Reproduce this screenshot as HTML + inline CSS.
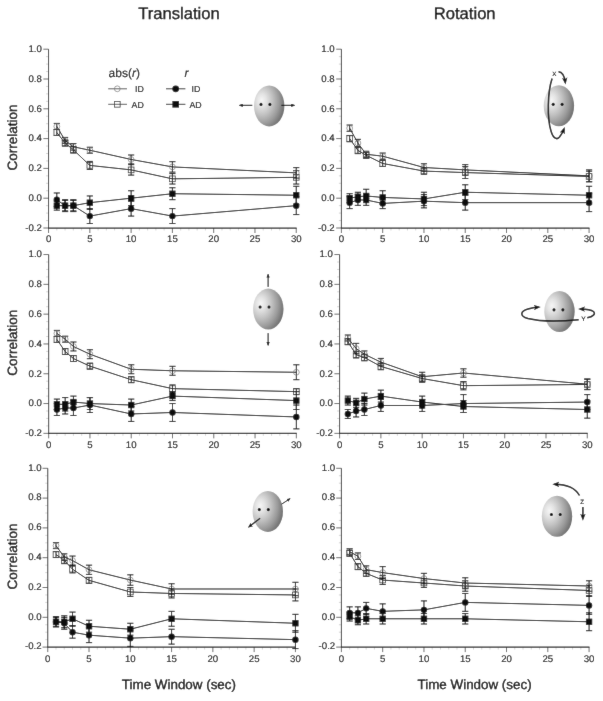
<!DOCTYPE html>
<html><head><meta charset="utf-8"><title>Correlation vs Time Window</title>
<style>html,body{margin:0;padding:0;background:#fff;}body{width:603px;height:701px;overflow:hidden;font-family:"Liberation Sans",sans-serif;}svg{display:block;filter:grayscale(1);}</style>
</head><body>
<svg width="603" height="701" viewBox="0 0 603 701" font-family="Liberation Sans, sans-serif" text-rendering="geometricPrecision"><style>text{fill:#000;stroke:#000;stroke-width:0.12px;}text.big{stroke-width:0.32px;}</style>
<defs>
<radialGradient id="hg" cx="0.27" cy="0.38" r="0.78" fx="0.25" fy="0.36"><stop offset="0" stop-color="#f6f6f6"/><stop offset="0.2" stop-color="#e3e3e3"/><stop offset="0.45" stop-color="#c2c2c2"/><stop offset="0.72" stop-color="#9a9a9a"/><stop offset="1" stop-color="#686868"/></radialGradient>
<marker id="ah" viewBox="0 0 10 10" refX="8" refY="5" markerWidth="4" markerHeight="3.6" markerUnits="userSpaceOnUse" preserveAspectRatio="none" orient="auto"><path d="M0,0.5 L10,5 L0,9.5 z" fill="#111"/></marker>
<marker id="ahm" viewBox="0 0 10 10" refX="6" refY="5" markerWidth="5" markerHeight="4.4" markerUnits="userSpaceOnUse" preserveAspectRatio="none" orient="auto"><path d="M0,0.5 L10,5 L0,9.5 z" fill="#111"/></marker>
<marker id="ahb" viewBox="0 0 10 10" refX="7" refY="5" markerWidth="7" markerHeight="6" markerUnits="userSpaceOnUse" preserveAspectRatio="none" orient="auto"><path d="M0,0.5 L10,5 L0,9.5 L2.5,5 z" fill="#111"/></marker>
<filter id="bl" x="-10%" y="-10%" width="120%" height="120%"><feGaussianBlur stdDeviation="0.45"/></filter>
<filter id="soft" filterUnits="userSpaceOnUse" x="0" y="0" width="603" height="701"><feConvolveMatrix order="3" kernelMatrix="0.01 0.05 0.01 0.05 0.76 0.05 0.01 0.05 0.01" divisor="1" edgeMode="duplicate" preserveAlpha="false"/></filter>
</defs>
<g id="all" filter="url(#soft)">
<rect width="603" height="701" fill="#fff"/>
<g><line x1="46.06" y1="220.55" x2="48.56" y2="220.55" stroke="#b8b8b8" stroke-width="0.6"/>
<line x1="46.06" y1="213.10" x2="48.56" y2="213.10" stroke="#b8b8b8" stroke-width="0.6"/>
<line x1="46.06" y1="205.65" x2="48.56" y2="205.65" stroke="#b8b8b8" stroke-width="0.6"/>
<line x1="46.06" y1="190.75" x2="48.56" y2="190.75" stroke="#b8b8b8" stroke-width="0.6"/>
<line x1="46.06" y1="183.30" x2="48.56" y2="183.30" stroke="#b8b8b8" stroke-width="0.6"/>
<line x1="46.06" y1="175.85" x2="48.56" y2="175.85" stroke="#b8b8b8" stroke-width="0.6"/>
<line x1="46.06" y1="160.95" x2="48.56" y2="160.95" stroke="#b8b8b8" stroke-width="0.6"/>
<line x1="46.06" y1="153.50" x2="48.56" y2="153.50" stroke="#b8b8b8" stroke-width="0.6"/>
<line x1="46.06" y1="146.05" x2="48.56" y2="146.05" stroke="#b8b8b8" stroke-width="0.6"/>
<line x1="46.06" y1="131.15" x2="48.56" y2="131.15" stroke="#b8b8b8" stroke-width="0.6"/>
<line x1="46.06" y1="123.70" x2="48.56" y2="123.70" stroke="#b8b8b8" stroke-width="0.6"/>
<line x1="46.06" y1="116.25" x2="48.56" y2="116.25" stroke="#b8b8b8" stroke-width="0.6"/>
<line x1="46.06" y1="101.35" x2="48.56" y2="101.35" stroke="#b8b8b8" stroke-width="0.6"/>
<line x1="46.06" y1="93.90" x2="48.56" y2="93.90" stroke="#b8b8b8" stroke-width="0.6"/>
<line x1="46.06" y1="86.45" x2="48.56" y2="86.45" stroke="#b8b8b8" stroke-width="0.6"/>
<line x1="46.06" y1="71.55" x2="48.56" y2="71.55" stroke="#b8b8b8" stroke-width="0.6"/>
<line x1="46.06" y1="64.10" x2="48.56" y2="64.10" stroke="#b8b8b8" stroke-width="0.6"/>
<line x1="46.06" y1="56.65" x2="48.56" y2="56.65" stroke="#b8b8b8" stroke-width="0.6"/>
<line x1="43.36" y1="228.00" x2="48.56" y2="228.00" stroke="#3c3c3c" stroke-width="0.75"/>
<text x="41.86" y="230.80" font-size="9.65" text-anchor="end" >-0.2</text>
<line x1="43.36" y1="198.20" x2="48.56" y2="198.20" stroke="#3c3c3c" stroke-width="0.75"/>
<text x="41.86" y="201.00" font-size="9.65" text-anchor="end" >0.0</text>
<line x1="43.36" y1="168.40" x2="48.56" y2="168.40" stroke="#3c3c3c" stroke-width="0.75"/>
<text x="41.86" y="171.20" font-size="9.65" text-anchor="end" >0.2</text>
<line x1="43.36" y1="138.60" x2="48.56" y2="138.60" stroke="#3c3c3c" stroke-width="0.75"/>
<text x="41.86" y="141.40" font-size="9.65" text-anchor="end" >0.4</text>
<line x1="43.36" y1="108.80" x2="48.56" y2="108.80" stroke="#3c3c3c" stroke-width="0.75"/>
<text x="41.86" y="111.60" font-size="9.65" text-anchor="end" >0.6</text>
<line x1="43.36" y1="79.00" x2="48.56" y2="79.00" stroke="#3c3c3c" stroke-width="0.75"/>
<text x="41.86" y="81.80" font-size="9.65" text-anchor="end" >0.8</text>
<line x1="43.36" y1="49.20" x2="48.56" y2="49.20" stroke="#3c3c3c" stroke-width="0.75"/>
<text x="41.86" y="52.00" font-size="9.65" text-anchor="end" >1.0</text>
<line x1="48.56" y1="228.00" x2="48.56" y2="233.00" stroke="#3c3c3c" stroke-width="0.75"/>
<text x="48.56" y="242.40" font-size="9.65" text-anchor="middle" >0</text>
<line x1="56.82" y1="228.00" x2="56.82" y2="230.50" stroke="#b8b8b8" stroke-width="0.6"/>
<line x1="65.07" y1="228.00" x2="65.07" y2="230.50" stroke="#b8b8b8" stroke-width="0.6"/>
<line x1="73.33" y1="228.00" x2="73.33" y2="230.50" stroke="#b8b8b8" stroke-width="0.6"/>
<line x1="81.58" y1="228.00" x2="81.58" y2="230.50" stroke="#b8b8b8" stroke-width="0.6"/>
<line x1="89.84" y1="228.00" x2="89.84" y2="233.00" stroke="#3c3c3c" stroke-width="0.75"/>
<text x="89.84" y="242.40" font-size="9.65" text-anchor="middle" >5</text>
<line x1="98.10" y1="228.00" x2="98.10" y2="230.50" stroke="#b8b8b8" stroke-width="0.6"/>
<line x1="106.35" y1="228.00" x2="106.35" y2="230.50" stroke="#b8b8b8" stroke-width="0.6"/>
<line x1="114.61" y1="228.00" x2="114.61" y2="230.50" stroke="#b8b8b8" stroke-width="0.6"/>
<line x1="122.86" y1="228.00" x2="122.86" y2="230.50" stroke="#b8b8b8" stroke-width="0.6"/>
<line x1="131.12" y1="228.00" x2="131.12" y2="233.00" stroke="#3c3c3c" stroke-width="0.75"/>
<text x="131.12" y="242.40" font-size="9.65" text-anchor="middle" >10</text>
<line x1="139.38" y1="228.00" x2="139.38" y2="230.50" stroke="#b8b8b8" stroke-width="0.6"/>
<line x1="147.63" y1="228.00" x2="147.63" y2="230.50" stroke="#b8b8b8" stroke-width="0.6"/>
<line x1="155.89" y1="228.00" x2="155.89" y2="230.50" stroke="#b8b8b8" stroke-width="0.6"/>
<line x1="164.14" y1="228.00" x2="164.14" y2="230.50" stroke="#b8b8b8" stroke-width="0.6"/>
<line x1="172.40" y1="228.00" x2="172.40" y2="233.00" stroke="#3c3c3c" stroke-width="0.75"/>
<text x="172.40" y="242.40" font-size="9.65" text-anchor="middle" >15</text>
<line x1="180.66" y1="228.00" x2="180.66" y2="230.50" stroke="#b8b8b8" stroke-width="0.6"/>
<line x1="188.91" y1="228.00" x2="188.91" y2="230.50" stroke="#b8b8b8" stroke-width="0.6"/>
<line x1="197.17" y1="228.00" x2="197.17" y2="230.50" stroke="#b8b8b8" stroke-width="0.6"/>
<line x1="205.42" y1="228.00" x2="205.42" y2="230.50" stroke="#b8b8b8" stroke-width="0.6"/>
<line x1="213.68" y1="228.00" x2="213.68" y2="233.00" stroke="#3c3c3c" stroke-width="0.75"/>
<text x="213.68" y="242.40" font-size="9.65" text-anchor="middle" >20</text>
<line x1="221.94" y1="228.00" x2="221.94" y2="230.50" stroke="#b8b8b8" stroke-width="0.6"/>
<line x1="230.19" y1="228.00" x2="230.19" y2="230.50" stroke="#b8b8b8" stroke-width="0.6"/>
<line x1="238.45" y1="228.00" x2="238.45" y2="230.50" stroke="#b8b8b8" stroke-width="0.6"/>
<line x1="246.70" y1="228.00" x2="246.70" y2="230.50" stroke="#b8b8b8" stroke-width="0.6"/>
<line x1="254.96" y1="228.00" x2="254.96" y2="233.00" stroke="#3c3c3c" stroke-width="0.75"/>
<text x="254.96" y="242.40" font-size="9.65" text-anchor="middle" >25</text>
<line x1="263.22" y1="228.00" x2="263.22" y2="230.50" stroke="#b8b8b8" stroke-width="0.6"/>
<line x1="271.47" y1="228.00" x2="271.47" y2="230.50" stroke="#b8b8b8" stroke-width="0.6"/>
<line x1="279.73" y1="228.00" x2="279.73" y2="230.50" stroke="#b8b8b8" stroke-width="0.6"/>
<line x1="287.98" y1="228.00" x2="287.98" y2="230.50" stroke="#b8b8b8" stroke-width="0.6"/>
<line x1="296.24" y1="228.00" x2="296.24" y2="233.00" stroke="#3c3c3c" stroke-width="0.75"/>
<text x="296.24" y="242.40" font-size="9.65" text-anchor="middle" >30</text>
<path d="M48.56,49.20 V228.00" fill="none" stroke="#262626" stroke-width="0.92"/>
<path d="M48.10,228.00 H296.64" fill="none" stroke="#262626" stroke-width="1.25"/></g>
<g><path d="M53.72,123.40H59.92M53.72,129.36H59.92M56.82,123.40V129.36" stroke="#111" stroke-width="1.0" fill="none"/>
<path d="M61.97,137.41H68.17M61.97,143.37H68.17M65.07,137.41V143.37" stroke="#111" stroke-width="1.0" fill="none"/>
<path d="M70.23,143.52H76.43M70.23,150.07H76.43M73.33,143.52V150.07" stroke="#111" stroke-width="1.0" fill="none"/>
<path d="M86.74,147.24H92.94M86.74,153.20H92.94M89.84,147.24V153.20" stroke="#111" stroke-width="1.0" fill="none"/>
<path d="M128.02,154.99H134.22M128.02,163.93H134.22M131.12,154.99V163.93" stroke="#111" stroke-width="1.0" fill="none"/>
<path d="M169.30,161.69H175.50M169.30,172.12H175.50M172.40,161.69V172.12" stroke="#111" stroke-width="1.0" fill="none"/>
<path d="M293.14,167.65H299.34M293.14,178.08H299.34M296.24,167.65V178.08" stroke="#111" stroke-width="1.0" fill="none"/>
<path d="M53.72,129.51H59.92M53.72,135.47H59.92M56.82,129.51V135.47" stroke="#111" stroke-width="1.0" fill="none"/>
<path d="M61.97,140.09H68.17M61.97,146.05H68.17M65.07,140.09V146.05" stroke="#111" stroke-width="1.0" fill="none"/>
<path d="M70.23,146.50H76.43M70.23,153.05H76.43M73.33,146.50V153.05" stroke="#111" stroke-width="1.0" fill="none"/>
<path d="M86.74,161.40H92.94M86.74,169.44H92.94M89.84,161.40V169.44" stroke="#111" stroke-width="1.0" fill="none"/>
<path d="M128.02,164.67H134.22M128.02,175.10H134.22M131.12,164.67V175.10" stroke="#111" stroke-width="1.0" fill="none"/>
<path d="M169.30,173.61H175.50M169.30,184.04H175.50M172.40,173.61V184.04" stroke="#111" stroke-width="1.0" fill="none"/>
<path d="M293.14,170.63H299.34M293.14,184.04H299.34M296.24,170.63V184.04" stroke="#111" stroke-width="1.0" fill="none"/>
<polyline points="56.82,126.38 65.07,140.39 73.33,146.79 89.84,150.22 131.12,159.46 172.40,166.91 296.24,172.87" fill="none" stroke="#0c0c0c" stroke-width="1.0"/>
<polyline points="56.82,132.49 65.07,143.07 73.33,149.77 89.84,165.42 131.12,169.89 172.40,178.83 296.24,177.34" fill="none" stroke="#0c0c0c" stroke-width="1.0"/>
<circle cx="56.82" cy="126.38" r="2.9" fill="none" stroke="#777" stroke-width="0.7"/>
<circle cx="65.07" cy="140.39" r="2.9" fill="none" stroke="#777" stroke-width="0.7"/>
<circle cx="73.33" cy="146.79" r="2.9" fill="none" stroke="#777" stroke-width="0.7"/>
<circle cx="89.84" cy="150.22" r="2.9" fill="none" stroke="#777" stroke-width="0.7"/>
<circle cx="131.12" cy="159.46" r="2.9" fill="none" stroke="#777" stroke-width="0.7"/>
<circle cx="172.40" cy="166.91" r="2.9" fill="none" stroke="#777" stroke-width="0.7"/>
<circle cx="296.24" cy="172.87" r="2.9" fill="none" stroke="#777" stroke-width="0.7"/>
<rect x="53.97" y="129.64" width="5.7" height="5.7" fill="none" stroke="#3a3a3a" stroke-width="0.8"/>
<rect x="62.22" y="140.22" width="5.7" height="5.7" fill="none" stroke="#3a3a3a" stroke-width="0.8"/>
<rect x="70.48" y="146.92" width="5.7" height="5.7" fill="none" stroke="#3a3a3a" stroke-width="0.8"/>
<rect x="86.99" y="162.57" width="5.7" height="5.7" fill="none" stroke="#3a3a3a" stroke-width="0.8"/>
<rect x="128.27" y="167.04" width="5.7" height="5.7" fill="none" stroke="#3a3a3a" stroke-width="0.8"/>
<rect x="169.55" y="175.98" width="5.7" height="5.7" fill="none" stroke="#3a3a3a" stroke-width="0.8"/>
<rect x="293.39" y="174.49" width="5.7" height="5.7" fill="none" stroke="#3a3a3a" stroke-width="0.8"/>
<path d="M53.72,192.98H59.92M53.72,206.39H59.92M56.82,192.98V206.39" stroke="#0a0a0a" stroke-width="1.0" fill="none"/>
<path d="M61.97,199.69H68.17M61.97,211.61H68.17M65.07,199.69V211.61" stroke="#0a0a0a" stroke-width="1.0" fill="none"/>
<path d="M70.23,199.69H76.43M70.23,211.61H76.43M73.33,199.69V211.61" stroke="#0a0a0a" stroke-width="1.0" fill="none"/>
<path d="M86.74,208.63H92.94M86.74,223.53H92.94M89.84,208.63V223.53" stroke="#0a0a0a" stroke-width="1.0" fill="none"/>
<path d="M128.02,201.18H134.22M128.02,216.08H134.22M131.12,201.18V216.08" stroke="#0a0a0a" stroke-width="1.0" fill="none"/>
<path d="M169.30,208.63H175.50M169.30,223.53H175.50M172.40,208.63V223.53" stroke="#0a0a0a" stroke-width="1.0" fill="none"/>
<path d="M293.14,196.71H299.34M293.14,214.59H299.34M296.24,196.71V214.59" stroke="#0a0a0a" stroke-width="1.0" fill="none"/>
<path d="M53.72,201.18H59.92M53.72,210.12H59.92M56.82,201.18V210.12" stroke="#0a0a0a" stroke-width="1.0" fill="none"/>
<path d="M61.97,200.44H68.17M61.97,210.86H68.17M65.07,200.44V210.86" stroke="#0a0a0a" stroke-width="1.0" fill="none"/>
<path d="M70.23,200.44H76.43M70.23,210.86H76.43M73.33,200.44V210.86" stroke="#0a0a0a" stroke-width="1.0" fill="none"/>
<path d="M86.74,195.96H92.94M86.74,209.38H92.94M89.84,195.96V209.38" stroke="#0a0a0a" stroke-width="1.0" fill="none"/>
<path d="M128.02,190.75H134.22M128.02,205.65H134.22M131.12,190.75V205.65" stroke="#0a0a0a" stroke-width="1.0" fill="none"/>
<path d="M169.30,187.77H175.50M169.30,199.69H175.50M172.40,187.77V199.69" stroke="#0a0a0a" stroke-width="1.0" fill="none"/>
<path d="M293.14,186.28H299.34M293.14,204.16H299.34M296.24,186.28V204.16" stroke="#0a0a0a" stroke-width="1.0" fill="none"/>
<polyline points="56.82,199.69 65.07,205.65 73.33,205.65 89.84,216.08 131.12,208.63 172.40,216.08 296.24,205.65" fill="none" stroke="#0c0c0c" stroke-width="1.0"/>
<polyline points="56.82,205.65 65.07,205.65 73.33,205.65 89.84,202.67 131.12,198.20 172.40,193.73 296.24,195.22" fill="none" stroke="#0c0c0c" stroke-width="1.0"/>
<circle cx="56.82" cy="199.69" r="3.2" fill="#111"/>
<circle cx="65.07" cy="205.65" r="3.2" fill="#111"/>
<circle cx="73.33" cy="205.65" r="3.2" fill="#111"/>
<circle cx="89.84" cy="216.08" r="3.2" fill="#111"/>
<circle cx="131.12" cy="208.63" r="3.2" fill="#111"/>
<circle cx="172.40" cy="216.08" r="3.2" fill="#111"/>
<circle cx="296.24" cy="205.65" r="3.2" fill="#111"/>
<rect x="53.67" y="202.50" width="6.3" height="6.3" fill="#111"/>
<rect x="61.92" y="202.50" width="6.3" height="6.3" fill="#111"/>
<rect x="70.18" y="202.50" width="6.3" height="6.3" fill="#111"/>
<rect x="86.69" y="199.52" width="6.3" height="6.3" fill="#111"/>
<rect x="127.97" y="195.05" width="6.3" height="6.3" fill="#111"/>
<rect x="169.25" y="190.58" width="6.3" height="6.3" fill="#111"/>
<rect x="293.09" y="192.07" width="6.3" height="6.3" fill="#111"/></g>
<g><line x1="338.90" y1="220.55" x2="341.40" y2="220.55" stroke="#b8b8b8" stroke-width="0.6"/>
<line x1="338.90" y1="213.10" x2="341.40" y2="213.10" stroke="#b8b8b8" stroke-width="0.6"/>
<line x1="338.90" y1="205.65" x2="341.40" y2="205.65" stroke="#b8b8b8" stroke-width="0.6"/>
<line x1="338.90" y1="190.75" x2="341.40" y2="190.75" stroke="#b8b8b8" stroke-width="0.6"/>
<line x1="338.90" y1="183.30" x2="341.40" y2="183.30" stroke="#b8b8b8" stroke-width="0.6"/>
<line x1="338.90" y1="175.85" x2="341.40" y2="175.85" stroke="#b8b8b8" stroke-width="0.6"/>
<line x1="338.90" y1="160.95" x2="341.40" y2="160.95" stroke="#b8b8b8" stroke-width="0.6"/>
<line x1="338.90" y1="153.50" x2="341.40" y2="153.50" stroke="#b8b8b8" stroke-width="0.6"/>
<line x1="338.90" y1="146.05" x2="341.40" y2="146.05" stroke="#b8b8b8" stroke-width="0.6"/>
<line x1="338.90" y1="131.15" x2="341.40" y2="131.15" stroke="#b8b8b8" stroke-width="0.6"/>
<line x1="338.90" y1="123.70" x2="341.40" y2="123.70" stroke="#b8b8b8" stroke-width="0.6"/>
<line x1="338.90" y1="116.25" x2="341.40" y2="116.25" stroke="#b8b8b8" stroke-width="0.6"/>
<line x1="338.90" y1="101.35" x2="341.40" y2="101.35" stroke="#b8b8b8" stroke-width="0.6"/>
<line x1="338.90" y1="93.90" x2="341.40" y2="93.90" stroke="#b8b8b8" stroke-width="0.6"/>
<line x1="338.90" y1="86.45" x2="341.40" y2="86.45" stroke="#b8b8b8" stroke-width="0.6"/>
<line x1="338.90" y1="71.55" x2="341.40" y2="71.55" stroke="#b8b8b8" stroke-width="0.6"/>
<line x1="338.90" y1="64.10" x2="341.40" y2="64.10" stroke="#b8b8b8" stroke-width="0.6"/>
<line x1="338.90" y1="56.65" x2="341.40" y2="56.65" stroke="#b8b8b8" stroke-width="0.6"/>
<line x1="336.20" y1="228.00" x2="341.40" y2="228.00" stroke="#3c3c3c" stroke-width="0.75"/>
<text x="334.70" y="230.80" font-size="9.65" text-anchor="end" >-0.2</text>
<line x1="336.20" y1="198.20" x2="341.40" y2="198.20" stroke="#3c3c3c" stroke-width="0.75"/>
<text x="334.70" y="201.00" font-size="9.65" text-anchor="end" >0.0</text>
<line x1="336.20" y1="168.40" x2="341.40" y2="168.40" stroke="#3c3c3c" stroke-width="0.75"/>
<text x="334.70" y="171.20" font-size="9.65" text-anchor="end" >0.2</text>
<line x1="336.20" y1="138.60" x2="341.40" y2="138.60" stroke="#3c3c3c" stroke-width="0.75"/>
<text x="334.70" y="141.40" font-size="9.65" text-anchor="end" >0.4</text>
<line x1="336.20" y1="108.80" x2="341.40" y2="108.80" stroke="#3c3c3c" stroke-width="0.75"/>
<text x="334.70" y="111.60" font-size="9.65" text-anchor="end" >0.6</text>
<line x1="336.20" y1="79.00" x2="341.40" y2="79.00" stroke="#3c3c3c" stroke-width="0.75"/>
<text x="334.70" y="81.80" font-size="9.65" text-anchor="end" >0.8</text>
<line x1="336.20" y1="49.20" x2="341.40" y2="49.20" stroke="#3c3c3c" stroke-width="0.75"/>
<text x="334.70" y="52.00" font-size="9.65" text-anchor="end" >1.0</text>
<line x1="341.40" y1="228.00" x2="341.40" y2="233.00" stroke="#3c3c3c" stroke-width="0.75"/>
<text x="341.40" y="242.40" font-size="9.65" text-anchor="middle" >0</text>
<line x1="349.66" y1="228.00" x2="349.66" y2="230.50" stroke="#b8b8b8" stroke-width="0.6"/>
<line x1="357.91" y1="228.00" x2="357.91" y2="230.50" stroke="#b8b8b8" stroke-width="0.6"/>
<line x1="366.17" y1="228.00" x2="366.17" y2="230.50" stroke="#b8b8b8" stroke-width="0.6"/>
<line x1="374.42" y1="228.00" x2="374.42" y2="230.50" stroke="#b8b8b8" stroke-width="0.6"/>
<line x1="382.68" y1="228.00" x2="382.68" y2="233.00" stroke="#3c3c3c" stroke-width="0.75"/>
<text x="382.68" y="242.40" font-size="9.65" text-anchor="middle" >5</text>
<line x1="390.94" y1="228.00" x2="390.94" y2="230.50" stroke="#b8b8b8" stroke-width="0.6"/>
<line x1="399.19" y1="228.00" x2="399.19" y2="230.50" stroke="#b8b8b8" stroke-width="0.6"/>
<line x1="407.45" y1="228.00" x2="407.45" y2="230.50" stroke="#b8b8b8" stroke-width="0.6"/>
<line x1="415.70" y1="228.00" x2="415.70" y2="230.50" stroke="#b8b8b8" stroke-width="0.6"/>
<line x1="423.96" y1="228.00" x2="423.96" y2="233.00" stroke="#3c3c3c" stroke-width="0.75"/>
<text x="423.96" y="242.40" font-size="9.65" text-anchor="middle" >10</text>
<line x1="432.22" y1="228.00" x2="432.22" y2="230.50" stroke="#b8b8b8" stroke-width="0.6"/>
<line x1="440.47" y1="228.00" x2="440.47" y2="230.50" stroke="#b8b8b8" stroke-width="0.6"/>
<line x1="448.73" y1="228.00" x2="448.73" y2="230.50" stroke="#b8b8b8" stroke-width="0.6"/>
<line x1="456.98" y1="228.00" x2="456.98" y2="230.50" stroke="#b8b8b8" stroke-width="0.6"/>
<line x1="465.24" y1="228.00" x2="465.24" y2="233.00" stroke="#3c3c3c" stroke-width="0.75"/>
<text x="465.24" y="242.40" font-size="9.65" text-anchor="middle" >15</text>
<line x1="473.50" y1="228.00" x2="473.50" y2="230.50" stroke="#b8b8b8" stroke-width="0.6"/>
<line x1="481.75" y1="228.00" x2="481.75" y2="230.50" stroke="#b8b8b8" stroke-width="0.6"/>
<line x1="490.01" y1="228.00" x2="490.01" y2="230.50" stroke="#b8b8b8" stroke-width="0.6"/>
<line x1="498.26" y1="228.00" x2="498.26" y2="230.50" stroke="#b8b8b8" stroke-width="0.6"/>
<line x1="506.52" y1="228.00" x2="506.52" y2="233.00" stroke="#3c3c3c" stroke-width="0.75"/>
<text x="506.52" y="242.40" font-size="9.65" text-anchor="middle" >20</text>
<line x1="514.78" y1="228.00" x2="514.78" y2="230.50" stroke="#b8b8b8" stroke-width="0.6"/>
<line x1="523.03" y1="228.00" x2="523.03" y2="230.50" stroke="#b8b8b8" stroke-width="0.6"/>
<line x1="531.29" y1="228.00" x2="531.29" y2="230.50" stroke="#b8b8b8" stroke-width="0.6"/>
<line x1="539.54" y1="228.00" x2="539.54" y2="230.50" stroke="#b8b8b8" stroke-width="0.6"/>
<line x1="547.80" y1="228.00" x2="547.80" y2="233.00" stroke="#3c3c3c" stroke-width="0.75"/>
<text x="547.80" y="242.40" font-size="9.65" text-anchor="middle" >25</text>
<line x1="556.06" y1="228.00" x2="556.06" y2="230.50" stroke="#b8b8b8" stroke-width="0.6"/>
<line x1="564.31" y1="228.00" x2="564.31" y2="230.50" stroke="#b8b8b8" stroke-width="0.6"/>
<line x1="572.57" y1="228.00" x2="572.57" y2="230.50" stroke="#b8b8b8" stroke-width="0.6"/>
<line x1="580.82" y1="228.00" x2="580.82" y2="230.50" stroke="#b8b8b8" stroke-width="0.6"/>
<line x1="589.08" y1="228.00" x2="589.08" y2="233.00" stroke="#3c3c3c" stroke-width="0.75"/>
<text x="589.08" y="242.40" font-size="9.65" text-anchor="middle" >30</text>
<path d="M341.40,49.20 V228.00" fill="none" stroke="#262626" stroke-width="0.92"/>
<path d="M340.94,228.00 H589.48" fill="none" stroke="#262626" stroke-width="1.25"/></g>
<g><path d="M346.56,125.04H352.76M346.56,131.30H352.76M349.66,125.04V131.30" stroke="#111" stroke-width="1.0" fill="none"/>
<path d="M354.81,139.34H361.01M354.81,146.79H361.01M357.91,139.34V146.79" stroke="#111" stroke-width="1.0" fill="none"/>
<path d="M363.07,151.26H369.27M363.07,157.22H369.27M366.17,151.26V157.22" stroke="#111" stroke-width="1.0" fill="none"/>
<path d="M379.58,153.05H385.78M379.58,159.31H385.78M382.68,153.05V159.31" stroke="#111" stroke-width="1.0" fill="none"/>
<path d="M420.86,163.78H427.06M420.86,171.23H427.06M423.96,163.78V171.23" stroke="#111" stroke-width="1.0" fill="none"/>
<path d="M462.14,164.67H468.34M462.14,175.10H468.34M465.24,164.67V175.10" stroke="#111" stroke-width="1.0" fill="none"/>
<path d="M585.98,169.89H592.18M585.98,181.81H592.18M589.08,169.89V181.81" stroke="#111" stroke-width="1.0" fill="none"/>
<path d="M346.56,135.47H352.76M346.56,141.73H352.76M349.66,135.47V141.73" stroke="#111" stroke-width="1.0" fill="none"/>
<path d="M354.81,147.09H361.01M354.81,153.65H361.01M357.91,147.09V153.65" stroke="#111" stroke-width="1.0" fill="none"/>
<path d="M363.07,152.31H369.27M363.07,158.27H369.27M366.17,152.31V158.27" stroke="#111" stroke-width="1.0" fill="none"/>
<path d="M379.58,160.50H385.78M379.58,166.46H385.78M382.68,160.50V166.46" stroke="#111" stroke-width="1.0" fill="none"/>
<path d="M420.86,167.95H427.06M420.86,174.21H427.06M423.96,167.95V174.21" stroke="#111" stroke-width="1.0" fill="none"/>
<path d="M462.14,166.61H468.34M462.14,178.53H468.34M465.24,166.61V178.53" stroke="#111" stroke-width="1.0" fill="none"/>
<path d="M585.98,171.23H592.18M585.98,181.66H592.18M589.08,171.23V181.66" stroke="#111" stroke-width="1.0" fill="none"/>
<polyline points="349.66,128.17 357.91,143.07 366.17,154.25 382.68,156.18 423.96,167.51 465.24,169.89 589.08,175.85" fill="none" stroke="#0c0c0c" stroke-width="1.0"/>
<polyline points="349.66,138.60 357.91,150.37 366.17,155.29 382.68,163.48 423.96,171.08 465.24,172.57 589.08,176.45" fill="none" stroke="#0c0c0c" stroke-width="1.0"/>
<circle cx="349.66" cy="128.17" r="2.9" fill="none" stroke="#777" stroke-width="0.7"/>
<circle cx="357.91" cy="143.07" r="2.9" fill="none" stroke="#777" stroke-width="0.7"/>
<circle cx="366.17" cy="154.25" r="2.9" fill="none" stroke="#777" stroke-width="0.7"/>
<circle cx="382.68" cy="156.18" r="2.9" fill="none" stroke="#777" stroke-width="0.7"/>
<circle cx="423.96" cy="167.51" r="2.9" fill="none" stroke="#777" stroke-width="0.7"/>
<circle cx="465.24" cy="169.89" r="2.9" fill="none" stroke="#777" stroke-width="0.7"/>
<circle cx="589.08" cy="175.85" r="2.9" fill="none" stroke="#777" stroke-width="0.7"/>
<rect x="346.81" y="135.75" width="5.7" height="5.7" fill="none" stroke="#3a3a3a" stroke-width="0.8"/>
<rect x="355.06" y="147.52" width="5.7" height="5.7" fill="none" stroke="#3a3a3a" stroke-width="0.8"/>
<rect x="363.32" y="152.44" width="5.7" height="5.7" fill="none" stroke="#3a3a3a" stroke-width="0.8"/>
<rect x="379.83" y="160.63" width="5.7" height="5.7" fill="none" stroke="#3a3a3a" stroke-width="0.8"/>
<rect x="421.11" y="168.23" width="5.7" height="5.7" fill="none" stroke="#3a3a3a" stroke-width="0.8"/>
<rect x="462.39" y="169.72" width="5.7" height="5.7" fill="none" stroke="#3a3a3a" stroke-width="0.8"/>
<rect x="586.23" y="173.60" width="5.7" height="5.7" fill="none" stroke="#3a3a3a" stroke-width="0.8"/>
<path d="M346.56,196.71H352.76M346.56,208.63H352.76M349.66,196.71V208.63" stroke="#0a0a0a" stroke-width="1.0" fill="none"/>
<path d="M354.81,194.62H361.01M354.81,205.35H361.01M357.91,194.62V205.35" stroke="#0a0a0a" stroke-width="1.0" fill="none"/>
<path d="M363.07,194.62H369.27M363.07,205.35H369.27M366.17,194.62V205.35" stroke="#0a0a0a" stroke-width="1.0" fill="none"/>
<path d="M379.58,198.20H385.78M379.58,208.63H385.78M382.68,198.20V208.63" stroke="#0a0a0a" stroke-width="1.0" fill="none"/>
<path d="M420.86,194.47H427.06M420.86,207.88H427.06M423.96,194.47V207.88" stroke="#0a0a0a" stroke-width="1.0" fill="none"/>
<path d="M462.14,195.22H468.34M462.14,210.12H468.34M465.24,195.22V210.12" stroke="#0a0a0a" stroke-width="1.0" fill="none"/>
<path d="M585.98,193.73H592.18M585.98,211.61H592.18M589.08,193.73V211.61" stroke="#0a0a0a" stroke-width="1.0" fill="none"/>
<path d="M346.56,193.73H352.76M346.56,202.67H352.76M349.66,193.73V202.67" stroke="#0a0a0a" stroke-width="1.0" fill="none"/>
<path d="M354.81,192.24H361.01M354.81,201.18H361.01M357.91,192.24V201.18" stroke="#0a0a0a" stroke-width="1.0" fill="none"/>
<path d="M363.07,189.26H369.27M363.07,202.67H369.27M366.17,189.26V202.67" stroke="#0a0a0a" stroke-width="1.0" fill="none"/>
<path d="M379.58,190.75H385.78M379.58,204.16H385.78M382.68,190.75V204.16" stroke="#0a0a0a" stroke-width="1.0" fill="none"/>
<path d="M420.86,192.24H427.06M420.86,205.65H427.06M423.96,192.24V205.65" stroke="#0a0a0a" stroke-width="1.0" fill="none"/>
<path d="M462.14,184.79H468.34M462.14,199.69H468.34M465.24,184.79V199.69" stroke="#0a0a0a" stroke-width="1.0" fill="none"/>
<path d="M585.98,186.28H592.18M585.98,204.16H592.18M589.08,186.28V204.16" stroke="#0a0a0a" stroke-width="1.0" fill="none"/>
<polyline points="349.66,202.67 357.91,199.99 366.17,199.99 382.68,203.41 423.96,201.18 465.24,202.67 589.08,202.67" fill="none" stroke="#0c0c0c" stroke-width="1.0"/>
<polyline points="349.66,198.20 357.91,196.71 366.17,195.96 382.68,197.45 423.96,198.94 465.24,192.24 589.08,195.22" fill="none" stroke="#0c0c0c" stroke-width="1.0"/>
<circle cx="349.66" cy="202.67" r="3.2" fill="#111"/>
<circle cx="357.91" cy="199.99" r="3.2" fill="#111"/>
<circle cx="366.17" cy="199.99" r="3.2" fill="#111"/>
<circle cx="382.68" cy="203.41" r="3.2" fill="#111"/>
<circle cx="423.96" cy="201.18" r="3.2" fill="#111"/>
<circle cx="465.24" cy="202.67" r="3.2" fill="#111"/>
<circle cx="589.08" cy="202.67" r="3.2" fill="#111"/>
<rect x="346.51" y="195.05" width="6.3" height="6.3" fill="#111"/>
<rect x="354.76" y="193.56" width="6.3" height="6.3" fill="#111"/>
<rect x="363.02" y="192.81" width="6.3" height="6.3" fill="#111"/>
<rect x="379.53" y="194.30" width="6.3" height="6.3" fill="#111"/>
<rect x="420.81" y="195.79" width="6.3" height="6.3" fill="#111"/>
<rect x="462.09" y="189.09" width="6.3" height="6.3" fill="#111"/>
<rect x="585.93" y="192.07" width="6.3" height="6.3" fill="#111"/></g>
<g><line x1="46.16" y1="425.90" x2="48.66" y2="425.90" stroke="#b8b8b8" stroke-width="0.6"/>
<line x1="46.16" y1="418.45" x2="48.66" y2="418.45" stroke="#b8b8b8" stroke-width="0.6"/>
<line x1="46.16" y1="411.00" x2="48.66" y2="411.00" stroke="#b8b8b8" stroke-width="0.6"/>
<line x1="46.16" y1="396.10" x2="48.66" y2="396.10" stroke="#b8b8b8" stroke-width="0.6"/>
<line x1="46.16" y1="388.65" x2="48.66" y2="388.65" stroke="#b8b8b8" stroke-width="0.6"/>
<line x1="46.16" y1="381.20" x2="48.66" y2="381.20" stroke="#b8b8b8" stroke-width="0.6"/>
<line x1="46.16" y1="366.30" x2="48.66" y2="366.30" stroke="#b8b8b8" stroke-width="0.6"/>
<line x1="46.16" y1="358.85" x2="48.66" y2="358.85" stroke="#b8b8b8" stroke-width="0.6"/>
<line x1="46.16" y1="351.40" x2="48.66" y2="351.40" stroke="#b8b8b8" stroke-width="0.6"/>
<line x1="46.16" y1="336.50" x2="48.66" y2="336.50" stroke="#b8b8b8" stroke-width="0.6"/>
<line x1="46.16" y1="329.05" x2="48.66" y2="329.05" stroke="#b8b8b8" stroke-width="0.6"/>
<line x1="46.16" y1="321.60" x2="48.66" y2="321.60" stroke="#b8b8b8" stroke-width="0.6"/>
<line x1="46.16" y1="306.70" x2="48.66" y2="306.70" stroke="#b8b8b8" stroke-width="0.6"/>
<line x1="46.16" y1="299.25" x2="48.66" y2="299.25" stroke="#b8b8b8" stroke-width="0.6"/>
<line x1="46.16" y1="291.80" x2="48.66" y2="291.80" stroke="#b8b8b8" stroke-width="0.6"/>
<line x1="46.16" y1="276.90" x2="48.66" y2="276.90" stroke="#b8b8b8" stroke-width="0.6"/>
<line x1="46.16" y1="269.45" x2="48.66" y2="269.45" stroke="#b8b8b8" stroke-width="0.6"/>
<line x1="46.16" y1="262.00" x2="48.66" y2="262.00" stroke="#b8b8b8" stroke-width="0.6"/>
<line x1="43.46" y1="433.35" x2="48.66" y2="433.35" stroke="#3c3c3c" stroke-width="0.75"/>
<text x="41.96" y="436.15" font-size="9.65" text-anchor="end" >-0.2</text>
<line x1="43.46" y1="403.55" x2="48.66" y2="403.55" stroke="#3c3c3c" stroke-width="0.75"/>
<text x="41.96" y="406.35" font-size="9.65" text-anchor="end" >0.0</text>
<line x1="43.46" y1="373.75" x2="48.66" y2="373.75" stroke="#3c3c3c" stroke-width="0.75"/>
<text x="41.96" y="376.55" font-size="9.65" text-anchor="end" >0.2</text>
<line x1="43.46" y1="343.95" x2="48.66" y2="343.95" stroke="#3c3c3c" stroke-width="0.75"/>
<text x="41.96" y="346.75" font-size="9.65" text-anchor="end" >0.4</text>
<line x1="43.46" y1="314.15" x2="48.66" y2="314.15" stroke="#3c3c3c" stroke-width="0.75"/>
<text x="41.96" y="316.95" font-size="9.65" text-anchor="end" >0.6</text>
<line x1="43.46" y1="284.35" x2="48.66" y2="284.35" stroke="#3c3c3c" stroke-width="0.75"/>
<text x="41.96" y="287.15" font-size="9.65" text-anchor="end" >0.8</text>
<line x1="43.46" y1="254.55" x2="48.66" y2="254.55" stroke="#3c3c3c" stroke-width="0.75"/>
<text x="41.96" y="257.35" font-size="9.65" text-anchor="end" >1.0</text>
<line x1="48.66" y1="433.35" x2="48.66" y2="438.35" stroke="#3c3c3c" stroke-width="0.75"/>
<text x="48.66" y="447.75" font-size="9.65" text-anchor="middle" >0</text>
<line x1="56.92" y1="433.35" x2="56.92" y2="435.85" stroke="#b8b8b8" stroke-width="0.6"/>
<line x1="65.17" y1="433.35" x2="65.17" y2="435.85" stroke="#b8b8b8" stroke-width="0.6"/>
<line x1="73.43" y1="433.35" x2="73.43" y2="435.85" stroke="#b8b8b8" stroke-width="0.6"/>
<line x1="81.68" y1="433.35" x2="81.68" y2="435.85" stroke="#b8b8b8" stroke-width="0.6"/>
<line x1="89.94" y1="433.35" x2="89.94" y2="438.35" stroke="#3c3c3c" stroke-width="0.75"/>
<text x="89.94" y="447.75" font-size="9.65" text-anchor="middle" >5</text>
<line x1="98.20" y1="433.35" x2="98.20" y2="435.85" stroke="#b8b8b8" stroke-width="0.6"/>
<line x1="106.45" y1="433.35" x2="106.45" y2="435.85" stroke="#b8b8b8" stroke-width="0.6"/>
<line x1="114.71" y1="433.35" x2="114.71" y2="435.85" stroke="#b8b8b8" stroke-width="0.6"/>
<line x1="122.96" y1="433.35" x2="122.96" y2="435.85" stroke="#b8b8b8" stroke-width="0.6"/>
<line x1="131.22" y1="433.35" x2="131.22" y2="438.35" stroke="#3c3c3c" stroke-width="0.75"/>
<text x="131.22" y="447.75" font-size="9.65" text-anchor="middle" >10</text>
<line x1="139.48" y1="433.35" x2="139.48" y2="435.85" stroke="#b8b8b8" stroke-width="0.6"/>
<line x1="147.73" y1="433.35" x2="147.73" y2="435.85" stroke="#b8b8b8" stroke-width="0.6"/>
<line x1="155.99" y1="433.35" x2="155.99" y2="435.85" stroke="#b8b8b8" stroke-width="0.6"/>
<line x1="164.24" y1="433.35" x2="164.24" y2="435.85" stroke="#b8b8b8" stroke-width="0.6"/>
<line x1="172.50" y1="433.35" x2="172.50" y2="438.35" stroke="#3c3c3c" stroke-width="0.75"/>
<text x="172.50" y="447.75" font-size="9.65" text-anchor="middle" >15</text>
<line x1="180.76" y1="433.35" x2="180.76" y2="435.85" stroke="#b8b8b8" stroke-width="0.6"/>
<line x1="189.01" y1="433.35" x2="189.01" y2="435.85" stroke="#b8b8b8" stroke-width="0.6"/>
<line x1="197.27" y1="433.35" x2="197.27" y2="435.85" stroke="#b8b8b8" stroke-width="0.6"/>
<line x1="205.52" y1="433.35" x2="205.52" y2="435.85" stroke="#b8b8b8" stroke-width="0.6"/>
<line x1="213.78" y1="433.35" x2="213.78" y2="438.35" stroke="#3c3c3c" stroke-width="0.75"/>
<text x="213.78" y="447.75" font-size="9.65" text-anchor="middle" >20</text>
<line x1="222.04" y1="433.35" x2="222.04" y2="435.85" stroke="#b8b8b8" stroke-width="0.6"/>
<line x1="230.29" y1="433.35" x2="230.29" y2="435.85" stroke="#b8b8b8" stroke-width="0.6"/>
<line x1="238.55" y1="433.35" x2="238.55" y2="435.85" stroke="#b8b8b8" stroke-width="0.6"/>
<line x1="246.80" y1="433.35" x2="246.80" y2="435.85" stroke="#b8b8b8" stroke-width="0.6"/>
<line x1="255.06" y1="433.35" x2="255.06" y2="438.35" stroke="#3c3c3c" stroke-width="0.75"/>
<text x="255.06" y="447.75" font-size="9.65" text-anchor="middle" >25</text>
<line x1="263.32" y1="433.35" x2="263.32" y2="435.85" stroke="#b8b8b8" stroke-width="0.6"/>
<line x1="271.57" y1="433.35" x2="271.57" y2="435.85" stroke="#b8b8b8" stroke-width="0.6"/>
<line x1="279.83" y1="433.35" x2="279.83" y2="435.85" stroke="#b8b8b8" stroke-width="0.6"/>
<line x1="288.08" y1="433.35" x2="288.08" y2="435.85" stroke="#b8b8b8" stroke-width="0.6"/>
<line x1="296.34" y1="433.35" x2="296.34" y2="438.35" stroke="#3c3c3c" stroke-width="0.75"/>
<text x="296.34" y="447.75" font-size="9.65" text-anchor="middle" >30</text>
<path d="M48.66,254.55 V433.35" fill="none" stroke="#262626" stroke-width="0.92"/>
<path d="M48.20,433.35 H296.74" fill="none" stroke="#262626" stroke-width="1.25"/></g>
<g><path d="M53.82,330.39H60.02M53.82,336.35H60.02M56.92,330.39V336.35" stroke="#111" stroke-width="1.0" fill="none"/>
<path d="M62.07,336.20H68.27M62.07,342.16H68.27M65.17,336.20V342.16" stroke="#111" stroke-width="1.0" fill="none"/>
<path d="M70.33,342.01H76.53M70.33,350.95H76.53M73.43,342.01V350.95" stroke="#111" stroke-width="1.0" fill="none"/>
<path d="M86.84,349.76H93.04M86.84,358.70H93.04M89.94,349.76V358.70" stroke="#111" stroke-width="1.0" fill="none"/>
<path d="M128.12,364.81H134.32M128.12,373.75H134.32M131.22,364.81V373.75" stroke="#111" stroke-width="1.0" fill="none"/>
<path d="M169.40,366.30H175.60M169.40,375.24H175.60M172.50,366.30V375.24" stroke="#111" stroke-width="1.0" fill="none"/>
<path d="M293.24,364.81H299.44M293.24,379.71H299.44M296.34,364.81V379.71" stroke="#111" stroke-width="1.0" fill="none"/>
<path d="M53.82,336.50H60.02M53.82,342.46H60.02M56.92,336.50V342.46" stroke="#111" stroke-width="1.0" fill="none"/>
<path d="M62.07,348.57H68.27M62.07,354.53H68.27M65.17,348.57V354.53" stroke="#111" stroke-width="1.0" fill="none"/>
<path d="M70.33,355.57H76.53M70.33,361.53H76.53M73.43,355.57V361.53" stroke="#111" stroke-width="1.0" fill="none"/>
<path d="M86.84,363.17H93.04M86.84,369.13H93.04M89.94,363.17V369.13" stroke="#111" stroke-width="1.0" fill="none"/>
<path d="M128.12,376.73H134.32M128.12,382.69H134.32M131.22,376.73V382.69" stroke="#111" stroke-width="1.0" fill="none"/>
<path d="M169.40,384.93H175.60M169.40,392.38H175.60M172.50,384.93V392.38" stroke="#111" stroke-width="1.0" fill="none"/>
<path d="M293.24,388.65H299.44M293.24,394.61H299.44M296.34,388.65V394.61" stroke="#111" stroke-width="1.0" fill="none"/>
<polyline points="56.92,333.37 65.17,339.18 73.43,346.48 89.94,354.23 131.22,369.28 172.50,370.77 296.34,372.26" fill="none" stroke="#0c0c0c" stroke-width="1.0"/>
<polyline points="56.92,339.48 65.17,351.55 73.43,358.55 89.94,366.15 131.22,379.71 172.50,388.65 296.34,391.63" fill="none" stroke="#0c0c0c" stroke-width="1.0"/>
<circle cx="56.92" cy="333.37" r="2.9" fill="none" stroke="#777" stroke-width="0.7"/>
<circle cx="65.17" cy="339.18" r="2.9" fill="none" stroke="#777" stroke-width="0.7"/>
<circle cx="73.43" cy="346.48" r="2.9" fill="none" stroke="#777" stroke-width="0.7"/>
<circle cx="89.94" cy="354.23" r="2.9" fill="none" stroke="#777" stroke-width="0.7"/>
<circle cx="131.22" cy="369.28" r="2.9" fill="none" stroke="#777" stroke-width="0.7"/>
<circle cx="172.50" cy="370.77" r="2.9" fill="none" stroke="#777" stroke-width="0.7"/>
<circle cx="296.34" cy="372.26" r="2.9" fill="none" stroke="#777" stroke-width="0.7"/>
<rect x="54.07" y="336.63" width="5.7" height="5.7" fill="none" stroke="#3a3a3a" stroke-width="0.8"/>
<rect x="62.32" y="348.70" width="5.7" height="5.7" fill="none" stroke="#3a3a3a" stroke-width="0.8"/>
<rect x="70.58" y="355.70" width="5.7" height="5.7" fill="none" stroke="#3a3a3a" stroke-width="0.8"/>
<rect x="87.09" y="363.30" width="5.7" height="5.7" fill="none" stroke="#3a3a3a" stroke-width="0.8"/>
<rect x="128.37" y="376.86" width="5.7" height="5.7" fill="none" stroke="#3a3a3a" stroke-width="0.8"/>
<rect x="169.65" y="385.80" width="5.7" height="5.7" fill="none" stroke="#3a3a3a" stroke-width="0.8"/>
<rect x="293.49" y="388.78" width="5.7" height="5.7" fill="none" stroke="#3a3a3a" stroke-width="0.8"/>
<path d="M53.82,403.55H60.02M53.82,415.47H60.02M56.92,403.55V415.47" stroke="#0a0a0a" stroke-width="1.0" fill="none"/>
<path d="M62.07,402.06H68.27M62.07,413.98H68.27M65.17,402.06V413.98" stroke="#0a0a0a" stroke-width="1.0" fill="none"/>
<path d="M70.33,400.57H76.53M70.33,415.47H76.53M73.43,400.57V415.47" stroke="#0a0a0a" stroke-width="1.0" fill="none"/>
<path d="M86.84,397.59H93.04M86.84,412.49H93.04M89.94,397.59V412.49" stroke="#0a0a0a" stroke-width="1.0" fill="none"/>
<path d="M128.12,406.53H134.32M128.12,421.43H134.32M131.22,406.53V421.43" stroke="#0a0a0a" stroke-width="1.0" fill="none"/>
<path d="M169.40,403.55H175.60M169.40,421.43H175.60M172.50,403.55V421.43" stroke="#0a0a0a" stroke-width="1.0" fill="none"/>
<path d="M293.24,405.04H299.44M293.24,428.88H299.44M296.34,405.04V428.88" stroke="#0a0a0a" stroke-width="1.0" fill="none"/>
<path d="M53.82,399.08H60.02M53.82,409.51H60.02M56.92,399.08V409.51" stroke="#0a0a0a" stroke-width="1.0" fill="none"/>
<path d="M62.07,397.59H68.27M62.07,411.00H68.27M65.17,397.59V411.00" stroke="#0a0a0a" stroke-width="1.0" fill="none"/>
<path d="M70.33,396.10H76.53M70.33,408.02H76.53M73.43,396.10V408.02" stroke="#0a0a0a" stroke-width="1.0" fill="none"/>
<path d="M86.84,397.59H93.04M86.84,409.51H93.04M89.94,397.59V409.51" stroke="#0a0a0a" stroke-width="1.0" fill="none"/>
<path d="M128.12,399.08H134.32M128.12,411.00H134.32M131.22,399.08V411.00" stroke="#0a0a0a" stroke-width="1.0" fill="none"/>
<path d="M169.40,391.63H175.60M169.40,400.57H175.60M172.50,391.63V400.57" stroke="#0a0a0a" stroke-width="1.0" fill="none"/>
<path d="M293.24,391.63H299.44M293.24,409.51H299.44M296.34,391.63V409.51" stroke="#0a0a0a" stroke-width="1.0" fill="none"/>
<polyline points="56.92,409.51 65.17,408.02 73.43,408.02 89.94,405.04 131.22,413.98 172.50,412.49 296.34,416.96" fill="none" stroke="#0c0c0c" stroke-width="1.0"/>
<polyline points="56.92,404.30 65.17,404.30 73.43,402.06 89.94,403.55 131.22,405.04 172.50,396.10 296.34,400.57" fill="none" stroke="#0c0c0c" stroke-width="1.0"/>
<circle cx="56.92" cy="409.51" r="3.2" fill="#111"/>
<circle cx="65.17" cy="408.02" r="3.2" fill="#111"/>
<circle cx="73.43" cy="408.02" r="3.2" fill="#111"/>
<circle cx="89.94" cy="405.04" r="3.2" fill="#111"/>
<circle cx="131.22" cy="413.98" r="3.2" fill="#111"/>
<circle cx="172.50" cy="412.49" r="3.2" fill="#111"/>
<circle cx="296.34" cy="416.96" r="3.2" fill="#111"/>
<rect x="53.77" y="401.15" width="6.3" height="6.3" fill="#111"/>
<rect x="62.02" y="401.15" width="6.3" height="6.3" fill="#111"/>
<rect x="70.28" y="398.91" width="6.3" height="6.3" fill="#111"/>
<rect x="86.79" y="400.40" width="6.3" height="6.3" fill="#111"/>
<rect x="128.07" y="401.89" width="6.3" height="6.3" fill="#111"/>
<rect x="169.35" y="392.95" width="6.3" height="6.3" fill="#111"/>
<rect x="293.19" y="397.42" width="6.3" height="6.3" fill="#111"/></g>
<g><line x1="337.10" y1="425.90" x2="339.60" y2="425.90" stroke="#b8b8b8" stroke-width="0.6"/>
<line x1="337.10" y1="418.45" x2="339.60" y2="418.45" stroke="#b8b8b8" stroke-width="0.6"/>
<line x1="337.10" y1="411.00" x2="339.60" y2="411.00" stroke="#b8b8b8" stroke-width="0.6"/>
<line x1="337.10" y1="396.10" x2="339.60" y2="396.10" stroke="#b8b8b8" stroke-width="0.6"/>
<line x1="337.10" y1="388.65" x2="339.60" y2="388.65" stroke="#b8b8b8" stroke-width="0.6"/>
<line x1="337.10" y1="381.20" x2="339.60" y2="381.20" stroke="#b8b8b8" stroke-width="0.6"/>
<line x1="337.10" y1="366.30" x2="339.60" y2="366.30" stroke="#b8b8b8" stroke-width="0.6"/>
<line x1="337.10" y1="358.85" x2="339.60" y2="358.85" stroke="#b8b8b8" stroke-width="0.6"/>
<line x1="337.10" y1="351.40" x2="339.60" y2="351.40" stroke="#b8b8b8" stroke-width="0.6"/>
<line x1="337.10" y1="336.50" x2="339.60" y2="336.50" stroke="#b8b8b8" stroke-width="0.6"/>
<line x1="337.10" y1="329.05" x2="339.60" y2="329.05" stroke="#b8b8b8" stroke-width="0.6"/>
<line x1="337.10" y1="321.60" x2="339.60" y2="321.60" stroke="#b8b8b8" stroke-width="0.6"/>
<line x1="337.10" y1="306.70" x2="339.60" y2="306.70" stroke="#b8b8b8" stroke-width="0.6"/>
<line x1="337.10" y1="299.25" x2="339.60" y2="299.25" stroke="#b8b8b8" stroke-width="0.6"/>
<line x1="337.10" y1="291.80" x2="339.60" y2="291.80" stroke="#b8b8b8" stroke-width="0.6"/>
<line x1="337.10" y1="276.90" x2="339.60" y2="276.90" stroke="#b8b8b8" stroke-width="0.6"/>
<line x1="337.10" y1="269.45" x2="339.60" y2="269.45" stroke="#b8b8b8" stroke-width="0.6"/>
<line x1="337.10" y1="262.00" x2="339.60" y2="262.00" stroke="#b8b8b8" stroke-width="0.6"/>
<line x1="334.40" y1="433.35" x2="339.60" y2="433.35" stroke="#3c3c3c" stroke-width="0.75"/>
<text x="332.90" y="436.15" font-size="9.65" text-anchor="end" >-0.2</text>
<line x1="334.40" y1="403.55" x2="339.60" y2="403.55" stroke="#3c3c3c" stroke-width="0.75"/>
<text x="332.90" y="406.35" font-size="9.65" text-anchor="end" >0.0</text>
<line x1="334.40" y1="373.75" x2="339.60" y2="373.75" stroke="#3c3c3c" stroke-width="0.75"/>
<text x="332.90" y="376.55" font-size="9.65" text-anchor="end" >0.2</text>
<line x1="334.40" y1="343.95" x2="339.60" y2="343.95" stroke="#3c3c3c" stroke-width="0.75"/>
<text x="332.90" y="346.75" font-size="9.65" text-anchor="end" >0.4</text>
<line x1="334.40" y1="314.15" x2="339.60" y2="314.15" stroke="#3c3c3c" stroke-width="0.75"/>
<text x="332.90" y="316.95" font-size="9.65" text-anchor="end" >0.6</text>
<line x1="334.40" y1="284.35" x2="339.60" y2="284.35" stroke="#3c3c3c" stroke-width="0.75"/>
<text x="332.90" y="287.15" font-size="9.65" text-anchor="end" >0.8</text>
<line x1="334.40" y1="254.55" x2="339.60" y2="254.55" stroke="#3c3c3c" stroke-width="0.75"/>
<text x="332.90" y="257.35" font-size="9.65" text-anchor="end" >1.0</text>
<line x1="339.60" y1="433.35" x2="339.60" y2="438.35" stroke="#3c3c3c" stroke-width="0.75"/>
<text x="339.60" y="447.75" font-size="9.65" text-anchor="middle" >0</text>
<line x1="347.86" y1="433.35" x2="347.86" y2="435.85" stroke="#b8b8b8" stroke-width="0.6"/>
<line x1="356.11" y1="433.35" x2="356.11" y2="435.85" stroke="#b8b8b8" stroke-width="0.6"/>
<line x1="364.37" y1="433.35" x2="364.37" y2="435.85" stroke="#b8b8b8" stroke-width="0.6"/>
<line x1="372.62" y1="433.35" x2="372.62" y2="435.85" stroke="#b8b8b8" stroke-width="0.6"/>
<line x1="380.88" y1="433.35" x2="380.88" y2="438.35" stroke="#3c3c3c" stroke-width="0.75"/>
<text x="380.88" y="447.75" font-size="9.65" text-anchor="middle" >5</text>
<line x1="389.14" y1="433.35" x2="389.14" y2="435.85" stroke="#b8b8b8" stroke-width="0.6"/>
<line x1="397.39" y1="433.35" x2="397.39" y2="435.85" stroke="#b8b8b8" stroke-width="0.6"/>
<line x1="405.65" y1="433.35" x2="405.65" y2="435.85" stroke="#b8b8b8" stroke-width="0.6"/>
<line x1="413.90" y1="433.35" x2="413.90" y2="435.85" stroke="#b8b8b8" stroke-width="0.6"/>
<line x1="422.16" y1="433.35" x2="422.16" y2="438.35" stroke="#3c3c3c" stroke-width="0.75"/>
<text x="422.16" y="447.75" font-size="9.65" text-anchor="middle" >10</text>
<line x1="430.42" y1="433.35" x2="430.42" y2="435.85" stroke="#b8b8b8" stroke-width="0.6"/>
<line x1="438.67" y1="433.35" x2="438.67" y2="435.85" stroke="#b8b8b8" stroke-width="0.6"/>
<line x1="446.93" y1="433.35" x2="446.93" y2="435.85" stroke="#b8b8b8" stroke-width="0.6"/>
<line x1="455.18" y1="433.35" x2="455.18" y2="435.85" stroke="#b8b8b8" stroke-width="0.6"/>
<line x1="463.44" y1="433.35" x2="463.44" y2="438.35" stroke="#3c3c3c" stroke-width="0.75"/>
<text x="463.44" y="447.75" font-size="9.65" text-anchor="middle" >15</text>
<line x1="471.70" y1="433.35" x2="471.70" y2="435.85" stroke="#b8b8b8" stroke-width="0.6"/>
<line x1="479.95" y1="433.35" x2="479.95" y2="435.85" stroke="#b8b8b8" stroke-width="0.6"/>
<line x1="488.21" y1="433.35" x2="488.21" y2="435.85" stroke="#b8b8b8" stroke-width="0.6"/>
<line x1="496.46" y1="433.35" x2="496.46" y2="435.85" stroke="#b8b8b8" stroke-width="0.6"/>
<line x1="504.72" y1="433.35" x2="504.72" y2="438.35" stroke="#3c3c3c" stroke-width="0.75"/>
<text x="504.72" y="447.75" font-size="9.65" text-anchor="middle" >20</text>
<line x1="512.98" y1="433.35" x2="512.98" y2="435.85" stroke="#b8b8b8" stroke-width="0.6"/>
<line x1="521.23" y1="433.35" x2="521.23" y2="435.85" stroke="#b8b8b8" stroke-width="0.6"/>
<line x1="529.49" y1="433.35" x2="529.49" y2="435.85" stroke="#b8b8b8" stroke-width="0.6"/>
<line x1="537.74" y1="433.35" x2="537.74" y2="435.85" stroke="#b8b8b8" stroke-width="0.6"/>
<line x1="546.00" y1="433.35" x2="546.00" y2="438.35" stroke="#3c3c3c" stroke-width="0.75"/>
<text x="546.00" y="447.75" font-size="9.65" text-anchor="middle" >25</text>
<line x1="554.26" y1="433.35" x2="554.26" y2="435.85" stroke="#b8b8b8" stroke-width="0.6"/>
<line x1="562.51" y1="433.35" x2="562.51" y2="435.85" stroke="#b8b8b8" stroke-width="0.6"/>
<line x1="570.77" y1="433.35" x2="570.77" y2="435.85" stroke="#b8b8b8" stroke-width="0.6"/>
<line x1="579.02" y1="433.35" x2="579.02" y2="435.85" stroke="#b8b8b8" stroke-width="0.6"/>
<line x1="587.28" y1="433.35" x2="587.28" y2="438.35" stroke="#3c3c3c" stroke-width="0.75"/>
<text x="587.28" y="447.75" font-size="9.65" text-anchor="middle" >30</text>
<path d="M339.60,254.55 V433.35" fill="none" stroke="#262626" stroke-width="0.92"/>
<path d="M339.14,433.35 H587.68" fill="none" stroke="#262626" stroke-width="1.25"/></g>
<g><path d="M344.76,335.01H350.96M344.76,340.97H350.96M347.86,335.01V340.97" stroke="#111" stroke-width="1.0" fill="none"/>
<path d="M353.01,343.35H359.21M353.01,353.78H359.21M356.11,343.35V353.78" stroke="#111" stroke-width="1.0" fill="none"/>
<path d="M361.27,350.95H367.47M361.27,357.51H367.47M364.37,350.95V357.51" stroke="#111" stroke-width="1.0" fill="none"/>
<path d="M377.78,358.40H383.98M377.78,365.85H383.98M380.88,358.40V365.85" stroke="#111" stroke-width="1.0" fill="none"/>
<path d="M419.06,372.26H425.26M419.06,381.20H425.26M422.16,372.26V381.20" stroke="#111" stroke-width="1.0" fill="none"/>
<path d="M460.34,368.83H466.54M460.34,377.18H466.54M463.44,368.83V377.18" stroke="#111" stroke-width="1.0" fill="none"/>
<path d="M584.18,378.97H590.38M584.18,389.40H590.38M587.28,378.97V389.40" stroke="#111" stroke-width="1.0" fill="none"/>
<path d="M344.76,338.74H350.96M344.76,344.69H350.96M347.86,338.74V344.69" stroke="#111" stroke-width="1.0" fill="none"/>
<path d="M353.01,351.40H359.21M353.01,357.96H359.21M356.11,351.40V357.96" stroke="#111" stroke-width="1.0" fill="none"/>
<path d="M361.27,354.23H367.47M361.27,360.79H367.47M364.37,354.23V360.79" stroke="#111" stroke-width="1.0" fill="none"/>
<path d="M377.78,363.17H383.98M377.78,369.73H383.98M380.88,363.17V369.73" stroke="#111" stroke-width="1.0" fill="none"/>
<path d="M419.06,374.79H425.26M419.06,382.24H425.26M422.16,374.79V382.24" stroke="#111" stroke-width="1.0" fill="none"/>
<path d="M460.34,381.50H466.54M460.34,389.84H466.54M463.44,381.50V389.84" stroke="#111" stroke-width="1.0" fill="none"/>
<path d="M584.18,379.26H590.38M584.18,389.69H590.38M587.28,379.26V389.69" stroke="#111" stroke-width="1.0" fill="none"/>
<polyline points="347.86,337.99 356.11,348.57 364.37,354.23 380.88,362.13 422.16,376.73 463.44,373.00 587.28,384.18" fill="none" stroke="#0c0c0c" stroke-width="1.0"/>
<polyline points="347.86,341.72 356.11,354.68 364.37,357.51 380.88,366.45 422.16,378.52 463.44,385.67 587.28,384.48" fill="none" stroke="#0c0c0c" stroke-width="1.0"/>
<circle cx="347.86" cy="337.99" r="2.9" fill="none" stroke="#777" stroke-width="0.7"/>
<circle cx="356.11" cy="348.57" r="2.9" fill="none" stroke="#777" stroke-width="0.7"/>
<circle cx="364.37" cy="354.23" r="2.9" fill="none" stroke="#777" stroke-width="0.7"/>
<circle cx="380.88" cy="362.13" r="2.9" fill="none" stroke="#777" stroke-width="0.7"/>
<circle cx="422.16" cy="376.73" r="2.9" fill="none" stroke="#777" stroke-width="0.7"/>
<circle cx="463.44" cy="373.00" r="2.9" fill="none" stroke="#777" stroke-width="0.7"/>
<circle cx="587.28" cy="384.18" r="2.9" fill="none" stroke="#777" stroke-width="0.7"/>
<rect x="345.01" y="338.87" width="5.7" height="5.7" fill="none" stroke="#3a3a3a" stroke-width="0.8"/>
<rect x="353.26" y="351.83" width="5.7" height="5.7" fill="none" stroke="#3a3a3a" stroke-width="0.8"/>
<rect x="361.52" y="354.66" width="5.7" height="5.7" fill="none" stroke="#3a3a3a" stroke-width="0.8"/>
<rect x="378.03" y="363.60" width="5.7" height="5.7" fill="none" stroke="#3a3a3a" stroke-width="0.8"/>
<rect x="419.31" y="375.67" width="5.7" height="5.7" fill="none" stroke="#3a3a3a" stroke-width="0.8"/>
<rect x="460.59" y="382.82" width="5.7" height="5.7" fill="none" stroke="#3a3a3a" stroke-width="0.8"/>
<rect x="584.43" y="381.63" width="5.7" height="5.7" fill="none" stroke="#3a3a3a" stroke-width="0.8"/>
<path d="M344.76,409.51H350.96M344.76,418.45H350.96M347.86,409.51V418.45" stroke="#0a0a0a" stroke-width="1.0" fill="none"/>
<path d="M353.01,405.04H359.21M353.01,416.96H359.21M356.11,405.04V416.96" stroke="#0a0a0a" stroke-width="1.0" fill="none"/>
<path d="M361.27,403.55H367.47M361.27,415.47H367.47M364.37,403.55V415.47" stroke="#0a0a0a" stroke-width="1.0" fill="none"/>
<path d="M377.78,399.53H383.98M377.78,411.45H383.98M380.88,399.53V411.45" stroke="#0a0a0a" stroke-width="1.0" fill="none"/>
<path d="M419.06,399.53H425.26M419.06,411.45H425.26M422.16,399.53V411.45" stroke="#0a0a0a" stroke-width="1.0" fill="none"/>
<path d="M460.34,394.61H466.54M460.34,412.49H466.54M463.44,394.61V412.49" stroke="#0a0a0a" stroke-width="1.0" fill="none"/>
<path d="M584.18,394.61H590.38M584.18,409.51H590.38M587.28,394.61V409.51" stroke="#0a0a0a" stroke-width="1.0" fill="none"/>
<path d="M344.76,396.10H350.96M344.76,405.04H350.96M347.86,396.10V405.04" stroke="#0a0a0a" stroke-width="1.0" fill="none"/>
<path d="M353.01,398.34H359.21M353.01,407.28H359.21M356.11,398.34V407.28" stroke="#0a0a0a" stroke-width="1.0" fill="none"/>
<path d="M361.27,393.12H367.47M361.27,405.04H367.47M364.37,393.12V405.04" stroke="#0a0a0a" stroke-width="1.0" fill="none"/>
<path d="M377.78,390.14H383.98M377.78,402.06H383.98M380.88,390.14V402.06" stroke="#0a0a0a" stroke-width="1.0" fill="none"/>
<path d="M419.06,396.10H425.26M419.06,408.02H425.26M422.16,396.10V408.02" stroke="#0a0a0a" stroke-width="1.0" fill="none"/>
<path d="M460.34,400.57H466.54M460.34,412.49H466.54M463.44,400.57V412.49" stroke="#0a0a0a" stroke-width="1.0" fill="none"/>
<path d="M584.18,400.87H590.38M584.18,418.15H590.38M587.28,400.87V418.15" stroke="#0a0a0a" stroke-width="1.0" fill="none"/>
<polyline points="347.86,413.98 356.11,411.00 364.37,409.51 380.88,405.49 422.16,405.49 463.44,403.55 587.28,402.06" fill="none" stroke="#0c0c0c" stroke-width="1.0"/>
<polyline points="347.86,400.57 356.11,402.81 364.37,399.08 380.88,396.10 422.16,402.06 463.44,406.53 587.28,409.51" fill="none" stroke="#0c0c0c" stroke-width="1.0"/>
<circle cx="347.86" cy="413.98" r="3.2" fill="#111"/>
<circle cx="356.11" cy="411.00" r="3.2" fill="#111"/>
<circle cx="364.37" cy="409.51" r="3.2" fill="#111"/>
<circle cx="380.88" cy="405.49" r="3.2" fill="#111"/>
<circle cx="422.16" cy="405.49" r="3.2" fill="#111"/>
<circle cx="463.44" cy="403.55" r="3.2" fill="#111"/>
<circle cx="587.28" cy="402.06" r="3.2" fill="#111"/>
<rect x="344.71" y="397.42" width="6.3" height="6.3" fill="#111"/>
<rect x="352.96" y="399.66" width="6.3" height="6.3" fill="#111"/>
<rect x="361.22" y="395.93" width="6.3" height="6.3" fill="#111"/>
<rect x="377.73" y="392.95" width="6.3" height="6.3" fill="#111"/>
<rect x="419.01" y="398.91" width="6.3" height="6.3" fill="#111"/>
<rect x="460.29" y="403.38" width="6.3" height="6.3" fill="#111"/>
<rect x="584.13" y="406.36" width="6.3" height="6.3" fill="#111"/></g>
<g><line x1="45.25" y1="639.65" x2="47.75" y2="639.65" stroke="#b8b8b8" stroke-width="0.6"/>
<line x1="45.25" y1="632.20" x2="47.75" y2="632.20" stroke="#b8b8b8" stroke-width="0.6"/>
<line x1="45.25" y1="624.75" x2="47.75" y2="624.75" stroke="#b8b8b8" stroke-width="0.6"/>
<line x1="45.25" y1="609.85" x2="47.75" y2="609.85" stroke="#b8b8b8" stroke-width="0.6"/>
<line x1="45.25" y1="602.40" x2="47.75" y2="602.40" stroke="#b8b8b8" stroke-width="0.6"/>
<line x1="45.25" y1="594.95" x2="47.75" y2="594.95" stroke="#b8b8b8" stroke-width="0.6"/>
<line x1="45.25" y1="580.05" x2="47.75" y2="580.05" stroke="#b8b8b8" stroke-width="0.6"/>
<line x1="45.25" y1="572.60" x2="47.75" y2="572.60" stroke="#b8b8b8" stroke-width="0.6"/>
<line x1="45.25" y1="565.15" x2="47.75" y2="565.15" stroke="#b8b8b8" stroke-width="0.6"/>
<line x1="45.25" y1="550.25" x2="47.75" y2="550.25" stroke="#b8b8b8" stroke-width="0.6"/>
<line x1="45.25" y1="542.80" x2="47.75" y2="542.80" stroke="#b8b8b8" stroke-width="0.6"/>
<line x1="45.25" y1="535.35" x2="47.75" y2="535.35" stroke="#b8b8b8" stroke-width="0.6"/>
<line x1="45.25" y1="520.45" x2="47.75" y2="520.45" stroke="#b8b8b8" stroke-width="0.6"/>
<line x1="45.25" y1="513.00" x2="47.75" y2="513.00" stroke="#b8b8b8" stroke-width="0.6"/>
<line x1="45.25" y1="505.55" x2="47.75" y2="505.55" stroke="#b8b8b8" stroke-width="0.6"/>
<line x1="45.25" y1="490.65" x2="47.75" y2="490.65" stroke="#b8b8b8" stroke-width="0.6"/>
<line x1="45.25" y1="483.20" x2="47.75" y2="483.20" stroke="#b8b8b8" stroke-width="0.6"/>
<line x1="45.25" y1="475.75" x2="47.75" y2="475.75" stroke="#b8b8b8" stroke-width="0.6"/>
<line x1="42.55" y1="647.10" x2="47.75" y2="647.10" stroke="#3c3c3c" stroke-width="0.75"/>
<text x="41.55" y="649.30" font-size="9.65" text-anchor="end" >-0.2</text>
<line x1="42.55" y1="617.30" x2="47.75" y2="617.30" stroke="#3c3c3c" stroke-width="0.75"/>
<text x="41.55" y="619.50" font-size="9.65" text-anchor="end" >0.0</text>
<line x1="42.55" y1="587.50" x2="47.75" y2="587.50" stroke="#3c3c3c" stroke-width="0.75"/>
<text x="41.55" y="589.70" font-size="9.65" text-anchor="end" >0.2</text>
<line x1="42.55" y1="557.70" x2="47.75" y2="557.70" stroke="#3c3c3c" stroke-width="0.75"/>
<text x="41.55" y="559.90" font-size="9.65" text-anchor="end" >0.4</text>
<line x1="42.55" y1="527.90" x2="47.75" y2="527.90" stroke="#3c3c3c" stroke-width="0.75"/>
<text x="41.55" y="530.10" font-size="9.65" text-anchor="end" >0.6</text>
<line x1="42.55" y1="498.10" x2="47.75" y2="498.10" stroke="#3c3c3c" stroke-width="0.75"/>
<text x="41.55" y="500.30" font-size="9.65" text-anchor="end" >0.8</text>
<line x1="42.55" y1="468.30" x2="47.75" y2="468.30" stroke="#3c3c3c" stroke-width="0.75"/>
<text x="41.55" y="470.50" font-size="9.65" text-anchor="end" >1.0</text>
<line x1="47.75" y1="647.10" x2="47.75" y2="652.10" stroke="#3c3c3c" stroke-width="0.75"/>
<text x="47.75" y="661.50" font-size="9.65" text-anchor="middle" >0</text>
<line x1="56.01" y1="647.10" x2="56.01" y2="649.60" stroke="#b8b8b8" stroke-width="0.6"/>
<line x1="64.26" y1="647.10" x2="64.26" y2="649.60" stroke="#b8b8b8" stroke-width="0.6"/>
<line x1="72.52" y1="647.10" x2="72.52" y2="649.60" stroke="#b8b8b8" stroke-width="0.6"/>
<line x1="80.77" y1="647.10" x2="80.77" y2="649.60" stroke="#b8b8b8" stroke-width="0.6"/>
<line x1="89.03" y1="647.10" x2="89.03" y2="652.10" stroke="#3c3c3c" stroke-width="0.75"/>
<text x="89.03" y="661.50" font-size="9.65" text-anchor="middle" >5</text>
<line x1="97.29" y1="647.10" x2="97.29" y2="649.60" stroke="#b8b8b8" stroke-width="0.6"/>
<line x1="105.54" y1="647.10" x2="105.54" y2="649.60" stroke="#b8b8b8" stroke-width="0.6"/>
<line x1="113.80" y1="647.10" x2="113.80" y2="649.60" stroke="#b8b8b8" stroke-width="0.6"/>
<line x1="122.05" y1="647.10" x2="122.05" y2="649.60" stroke="#b8b8b8" stroke-width="0.6"/>
<line x1="130.31" y1="647.10" x2="130.31" y2="652.10" stroke="#3c3c3c" stroke-width="0.75"/>
<text x="130.31" y="661.50" font-size="9.65" text-anchor="middle" >10</text>
<line x1="138.57" y1="647.10" x2="138.57" y2="649.60" stroke="#b8b8b8" stroke-width="0.6"/>
<line x1="146.82" y1="647.10" x2="146.82" y2="649.60" stroke="#b8b8b8" stroke-width="0.6"/>
<line x1="155.08" y1="647.10" x2="155.08" y2="649.60" stroke="#b8b8b8" stroke-width="0.6"/>
<line x1="163.33" y1="647.10" x2="163.33" y2="649.60" stroke="#b8b8b8" stroke-width="0.6"/>
<line x1="171.59" y1="647.10" x2="171.59" y2="652.10" stroke="#3c3c3c" stroke-width="0.75"/>
<text x="171.59" y="661.50" font-size="9.65" text-anchor="middle" >15</text>
<line x1="179.85" y1="647.10" x2="179.85" y2="649.60" stroke="#b8b8b8" stroke-width="0.6"/>
<line x1="188.10" y1="647.10" x2="188.10" y2="649.60" stroke="#b8b8b8" stroke-width="0.6"/>
<line x1="196.36" y1="647.10" x2="196.36" y2="649.60" stroke="#b8b8b8" stroke-width="0.6"/>
<line x1="204.61" y1="647.10" x2="204.61" y2="649.60" stroke="#b8b8b8" stroke-width="0.6"/>
<line x1="212.87" y1="647.10" x2="212.87" y2="652.10" stroke="#3c3c3c" stroke-width="0.75"/>
<text x="212.87" y="661.50" font-size="9.65" text-anchor="middle" >20</text>
<line x1="221.13" y1="647.10" x2="221.13" y2="649.60" stroke="#b8b8b8" stroke-width="0.6"/>
<line x1="229.38" y1="647.10" x2="229.38" y2="649.60" stroke="#b8b8b8" stroke-width="0.6"/>
<line x1="237.64" y1="647.10" x2="237.64" y2="649.60" stroke="#b8b8b8" stroke-width="0.6"/>
<line x1="245.89" y1="647.10" x2="245.89" y2="649.60" stroke="#b8b8b8" stroke-width="0.6"/>
<line x1="254.15" y1="647.10" x2="254.15" y2="652.10" stroke="#3c3c3c" stroke-width="0.75"/>
<text x="254.15" y="661.50" font-size="9.65" text-anchor="middle" >25</text>
<line x1="262.41" y1="647.10" x2="262.41" y2="649.60" stroke="#b8b8b8" stroke-width="0.6"/>
<line x1="270.66" y1="647.10" x2="270.66" y2="649.60" stroke="#b8b8b8" stroke-width="0.6"/>
<line x1="278.92" y1="647.10" x2="278.92" y2="649.60" stroke="#b8b8b8" stroke-width="0.6"/>
<line x1="287.17" y1="647.10" x2="287.17" y2="649.60" stroke="#b8b8b8" stroke-width="0.6"/>
<line x1="295.43" y1="647.10" x2="295.43" y2="652.10" stroke="#3c3c3c" stroke-width="0.75"/>
<text x="295.43" y="661.50" font-size="9.65" text-anchor="middle" >30</text>
<path d="M47.75,468.30 V647.10" fill="none" stroke="#262626" stroke-width="0.92"/>
<path d="M47.29,647.10 H295.83" fill="none" stroke="#262626" stroke-width="1.25"/></g>
<g><path d="M52.91,542.65H59.11M52.91,548.61H59.11M56.01,542.65V548.61" stroke="#111" stroke-width="1.0" fill="none"/>
<path d="M61.16,553.83H67.36M61.16,560.38H67.36M64.26,553.83V560.38" stroke="#111" stroke-width="1.0" fill="none"/>
<path d="M69.42,556.06H75.62M69.42,565.00H75.62M72.52,556.06V565.00" stroke="#111" stroke-width="1.0" fill="none"/>
<path d="M85.93,565.15H92.13M85.93,574.39H92.13M89.03,565.15V574.39" stroke="#111" stroke-width="1.0" fill="none"/>
<path d="M127.21,574.83H133.41M127.21,585.26H133.41M130.31,574.83V585.26" stroke="#111" stroke-width="1.0" fill="none"/>
<path d="M168.49,583.77H174.69M168.49,594.20H174.69M171.59,583.77V594.20" stroke="#111" stroke-width="1.0" fill="none"/>
<path d="M292.33,582.28H298.53M292.33,595.69H298.53M295.43,582.28V595.69" stroke="#111" stroke-width="1.0" fill="none"/>
<path d="M52.91,551.59H59.11M52.91,557.55H59.11M56.01,551.59V557.55" stroke="#111" stroke-width="1.0" fill="none"/>
<path d="M61.16,557.10H67.36M61.16,563.66H67.36M64.26,557.10V563.66" stroke="#111" stroke-width="1.0" fill="none"/>
<path d="M69.42,565.45H75.62M69.42,572.90H75.62M72.52,565.45V572.90" stroke="#111" stroke-width="1.0" fill="none"/>
<path d="M85.93,577.37H92.13M85.93,583.33H92.13M89.03,577.37V583.33" stroke="#111" stroke-width="1.0" fill="none"/>
<path d="M127.21,587.50H133.41M127.21,596.44H133.41M130.31,587.50V596.44" stroke="#111" stroke-width="1.0" fill="none"/>
<path d="M168.49,588.99H174.69M168.49,597.93H174.69M171.59,588.99V597.93" stroke="#111" stroke-width="1.0" fill="none"/>
<path d="M292.33,588.99H298.53M292.33,600.91H298.53M295.43,588.99V600.91" stroke="#111" stroke-width="1.0" fill="none"/>
<polyline points="56.01,545.63 64.26,557.10 72.52,560.53 89.03,569.77 130.31,580.05 171.59,588.99 295.43,588.99" fill="none" stroke="#0c0c0c" stroke-width="1.0"/>
<polyline points="56.01,554.57 64.26,560.38 72.52,569.17 89.03,580.35 130.31,591.97 171.59,593.46 295.43,594.95" fill="none" stroke="#0c0c0c" stroke-width="1.0"/>
<circle cx="56.01" cy="545.63" r="2.9" fill="none" stroke="#777" stroke-width="0.7"/>
<circle cx="64.26" cy="557.10" r="2.9" fill="none" stroke="#777" stroke-width="0.7"/>
<circle cx="72.52" cy="560.53" r="2.9" fill="none" stroke="#777" stroke-width="0.7"/>
<circle cx="89.03" cy="569.77" r="2.9" fill="none" stroke="#777" stroke-width="0.7"/>
<circle cx="130.31" cy="580.05" r="2.9" fill="none" stroke="#777" stroke-width="0.7"/>
<circle cx="171.59" cy="588.99" r="2.9" fill="none" stroke="#777" stroke-width="0.7"/>
<circle cx="295.43" cy="588.99" r="2.9" fill="none" stroke="#777" stroke-width="0.7"/>
<rect x="53.16" y="551.72" width="5.7" height="5.7" fill="none" stroke="#3a3a3a" stroke-width="0.8"/>
<rect x="61.41" y="557.53" width="5.7" height="5.7" fill="none" stroke="#3a3a3a" stroke-width="0.8"/>
<rect x="69.67" y="566.32" width="5.7" height="5.7" fill="none" stroke="#3a3a3a" stroke-width="0.8"/>
<rect x="86.18" y="577.50" width="5.7" height="5.7" fill="none" stroke="#3a3a3a" stroke-width="0.8"/>
<rect x="127.46" y="589.12" width="5.7" height="5.7" fill="none" stroke="#3a3a3a" stroke-width="0.8"/>
<rect x="168.74" y="590.61" width="5.7" height="5.7" fill="none" stroke="#3a3a3a" stroke-width="0.8"/>
<rect x="292.58" y="592.10" width="5.7" height="5.7" fill="none" stroke="#3a3a3a" stroke-width="0.8"/>
<path d="M52.91,616.55H59.11M52.91,626.98H59.11M56.01,616.55V626.98" stroke="#0a0a0a" stroke-width="1.0" fill="none"/>
<path d="M61.16,617.30H67.36M61.16,629.22H67.36M64.26,617.30V629.22" stroke="#0a0a0a" stroke-width="1.0" fill="none"/>
<path d="M69.42,626.24H75.62M69.42,638.16H75.62M72.52,626.24V638.16" stroke="#0a0a0a" stroke-width="1.0" fill="none"/>
<path d="M85.93,627.73H92.13M85.93,642.63H92.13M89.03,627.73V642.63" stroke="#0a0a0a" stroke-width="1.0" fill="none"/>
<path d="M127.21,629.96H133.41M127.21,646.35H133.41M130.31,629.96V646.35" stroke="#0a0a0a" stroke-width="1.0" fill="none"/>
<path d="M168.49,629.22H174.69M168.49,644.12H174.69M171.59,629.22V644.12" stroke="#0a0a0a" stroke-width="1.0" fill="none"/>
<path d="M292.33,630.71H298.53M292.33,648.59H298.53M295.43,630.71V648.59" stroke="#0a0a0a" stroke-width="1.0" fill="none"/>
<path d="M52.91,617.30H59.11M52.91,626.24H59.11M56.01,617.30V626.24" stroke="#0a0a0a" stroke-width="1.0" fill="none"/>
<path d="M61.16,615.81H67.36M61.16,627.73H67.36M64.26,615.81V627.73" stroke="#0a0a0a" stroke-width="1.0" fill="none"/>
<path d="M69.42,612.08H75.62M69.42,625.50H75.62M72.52,612.08V625.50" stroke="#0a0a0a" stroke-width="1.0" fill="none"/>
<path d="M85.93,620.28H92.13M85.93,632.20H92.13M89.03,620.28V632.20" stroke="#0a0a0a" stroke-width="1.0" fill="none"/>
<path d="M127.21,623.26H133.41M127.21,635.18H133.41M130.31,623.26V635.18" stroke="#0a0a0a" stroke-width="1.0" fill="none"/>
<path d="M168.49,611.34H174.69M168.49,626.24H174.69M171.59,611.34V626.24" stroke="#0a0a0a" stroke-width="1.0" fill="none"/>
<path d="M292.33,614.32H298.53M292.33,632.20H298.53M295.43,614.32V632.20" stroke="#0a0a0a" stroke-width="1.0" fill="none"/>
<polyline points="56.01,621.77 64.26,623.26 72.52,632.20 89.03,635.18 130.31,638.16 171.59,636.67 295.43,639.65" fill="none" stroke="#0c0c0c" stroke-width="1.0"/>
<polyline points="56.01,621.77 64.26,621.77 72.52,618.79 89.03,626.24 130.31,629.22 171.59,618.79 295.43,623.26" fill="none" stroke="#0c0c0c" stroke-width="1.0"/>
<circle cx="56.01" cy="621.77" r="3.2" fill="#111"/>
<circle cx="64.26" cy="623.26" r="3.2" fill="#111"/>
<circle cx="72.52" cy="632.20" r="3.2" fill="#111"/>
<circle cx="89.03" cy="635.18" r="3.2" fill="#111"/>
<circle cx="130.31" cy="638.16" r="3.2" fill="#111"/>
<circle cx="171.59" cy="636.67" r="3.2" fill="#111"/>
<circle cx="295.43" cy="639.65" r="3.2" fill="#111"/>
<rect x="52.86" y="618.62" width="6.3" height="6.3" fill="#111"/>
<rect x="61.11" y="618.62" width="6.3" height="6.3" fill="#111"/>
<rect x="69.37" y="615.64" width="6.3" height="6.3" fill="#111"/>
<rect x="85.88" y="623.09" width="6.3" height="6.3" fill="#111"/>
<rect x="127.16" y="626.07" width="6.3" height="6.3" fill="#111"/>
<rect x="168.44" y="615.64" width="6.3" height="6.3" fill="#111"/>
<rect x="292.28" y="620.11" width="6.3" height="6.3" fill="#111"/></g>
<g><line x1="338.90" y1="639.65" x2="341.40" y2="639.65" stroke="#b8b8b8" stroke-width="0.6"/>
<line x1="338.90" y1="632.20" x2="341.40" y2="632.20" stroke="#b8b8b8" stroke-width="0.6"/>
<line x1="338.90" y1="624.75" x2="341.40" y2="624.75" stroke="#b8b8b8" stroke-width="0.6"/>
<line x1="338.90" y1="609.85" x2="341.40" y2="609.85" stroke="#b8b8b8" stroke-width="0.6"/>
<line x1="338.90" y1="602.40" x2="341.40" y2="602.40" stroke="#b8b8b8" stroke-width="0.6"/>
<line x1="338.90" y1="594.95" x2="341.40" y2="594.95" stroke="#b8b8b8" stroke-width="0.6"/>
<line x1="338.90" y1="580.05" x2="341.40" y2="580.05" stroke="#b8b8b8" stroke-width="0.6"/>
<line x1="338.90" y1="572.60" x2="341.40" y2="572.60" stroke="#b8b8b8" stroke-width="0.6"/>
<line x1="338.90" y1="565.15" x2="341.40" y2="565.15" stroke="#b8b8b8" stroke-width="0.6"/>
<line x1="338.90" y1="550.25" x2="341.40" y2="550.25" stroke="#b8b8b8" stroke-width="0.6"/>
<line x1="338.90" y1="542.80" x2="341.40" y2="542.80" stroke="#b8b8b8" stroke-width="0.6"/>
<line x1="338.90" y1="535.35" x2="341.40" y2="535.35" stroke="#b8b8b8" stroke-width="0.6"/>
<line x1="338.90" y1="520.45" x2="341.40" y2="520.45" stroke="#b8b8b8" stroke-width="0.6"/>
<line x1="338.90" y1="513.00" x2="341.40" y2="513.00" stroke="#b8b8b8" stroke-width="0.6"/>
<line x1="338.90" y1="505.55" x2="341.40" y2="505.55" stroke="#b8b8b8" stroke-width="0.6"/>
<line x1="338.90" y1="490.65" x2="341.40" y2="490.65" stroke="#b8b8b8" stroke-width="0.6"/>
<line x1="338.90" y1="483.20" x2="341.40" y2="483.20" stroke="#b8b8b8" stroke-width="0.6"/>
<line x1="338.90" y1="475.75" x2="341.40" y2="475.75" stroke="#b8b8b8" stroke-width="0.6"/>
<line x1="336.20" y1="647.10" x2="341.40" y2="647.10" stroke="#3c3c3c" stroke-width="0.75"/>
<text x="335.20" y="649.30" font-size="9.65" text-anchor="end" >-0.2</text>
<line x1="336.20" y1="617.30" x2="341.40" y2="617.30" stroke="#3c3c3c" stroke-width="0.75"/>
<text x="335.20" y="619.50" font-size="9.65" text-anchor="end" >0.0</text>
<line x1="336.20" y1="587.50" x2="341.40" y2="587.50" stroke="#3c3c3c" stroke-width="0.75"/>
<text x="335.20" y="589.70" font-size="9.65" text-anchor="end" >0.2</text>
<line x1="336.20" y1="557.70" x2="341.40" y2="557.70" stroke="#3c3c3c" stroke-width="0.75"/>
<text x="335.20" y="559.90" font-size="9.65" text-anchor="end" >0.4</text>
<line x1="336.20" y1="527.90" x2="341.40" y2="527.90" stroke="#3c3c3c" stroke-width="0.75"/>
<text x="335.20" y="530.10" font-size="9.65" text-anchor="end" >0.6</text>
<line x1="336.20" y1="498.10" x2="341.40" y2="498.10" stroke="#3c3c3c" stroke-width="0.75"/>
<text x="335.20" y="500.30" font-size="9.65" text-anchor="end" >0.8</text>
<line x1="336.20" y1="468.30" x2="341.40" y2="468.30" stroke="#3c3c3c" stroke-width="0.75"/>
<text x="335.20" y="470.50" font-size="9.65" text-anchor="end" >1.0</text>
<line x1="341.40" y1="647.10" x2="341.40" y2="652.10" stroke="#3c3c3c" stroke-width="0.75"/>
<text x="341.40" y="661.50" font-size="9.65" text-anchor="middle" >0</text>
<line x1="349.66" y1="647.10" x2="349.66" y2="649.60" stroke="#b8b8b8" stroke-width="0.6"/>
<line x1="357.91" y1="647.10" x2="357.91" y2="649.60" stroke="#b8b8b8" stroke-width="0.6"/>
<line x1="366.17" y1="647.10" x2="366.17" y2="649.60" stroke="#b8b8b8" stroke-width="0.6"/>
<line x1="374.42" y1="647.10" x2="374.42" y2="649.60" stroke="#b8b8b8" stroke-width="0.6"/>
<line x1="382.68" y1="647.10" x2="382.68" y2="652.10" stroke="#3c3c3c" stroke-width="0.75"/>
<text x="382.68" y="661.50" font-size="9.65" text-anchor="middle" >5</text>
<line x1="390.94" y1="647.10" x2="390.94" y2="649.60" stroke="#b8b8b8" stroke-width="0.6"/>
<line x1="399.19" y1="647.10" x2="399.19" y2="649.60" stroke="#b8b8b8" stroke-width="0.6"/>
<line x1="407.45" y1="647.10" x2="407.45" y2="649.60" stroke="#b8b8b8" stroke-width="0.6"/>
<line x1="415.70" y1="647.10" x2="415.70" y2="649.60" stroke="#b8b8b8" stroke-width="0.6"/>
<line x1="423.96" y1="647.10" x2="423.96" y2="652.10" stroke="#3c3c3c" stroke-width="0.75"/>
<text x="423.96" y="661.50" font-size="9.65" text-anchor="middle" >10</text>
<line x1="432.22" y1="647.10" x2="432.22" y2="649.60" stroke="#b8b8b8" stroke-width="0.6"/>
<line x1="440.47" y1="647.10" x2="440.47" y2="649.60" stroke="#b8b8b8" stroke-width="0.6"/>
<line x1="448.73" y1="647.10" x2="448.73" y2="649.60" stroke="#b8b8b8" stroke-width="0.6"/>
<line x1="456.98" y1="647.10" x2="456.98" y2="649.60" stroke="#b8b8b8" stroke-width="0.6"/>
<line x1="465.24" y1="647.10" x2="465.24" y2="652.10" stroke="#3c3c3c" stroke-width="0.75"/>
<text x="465.24" y="661.50" font-size="9.65" text-anchor="middle" >15</text>
<line x1="473.50" y1="647.10" x2="473.50" y2="649.60" stroke="#b8b8b8" stroke-width="0.6"/>
<line x1="481.75" y1="647.10" x2="481.75" y2="649.60" stroke="#b8b8b8" stroke-width="0.6"/>
<line x1="490.01" y1="647.10" x2="490.01" y2="649.60" stroke="#b8b8b8" stroke-width="0.6"/>
<line x1="498.26" y1="647.10" x2="498.26" y2="649.60" stroke="#b8b8b8" stroke-width="0.6"/>
<line x1="506.52" y1="647.10" x2="506.52" y2="652.10" stroke="#3c3c3c" stroke-width="0.75"/>
<text x="506.52" y="661.50" font-size="9.65" text-anchor="middle" >20</text>
<line x1="514.78" y1="647.10" x2="514.78" y2="649.60" stroke="#b8b8b8" stroke-width="0.6"/>
<line x1="523.03" y1="647.10" x2="523.03" y2="649.60" stroke="#b8b8b8" stroke-width="0.6"/>
<line x1="531.29" y1="647.10" x2="531.29" y2="649.60" stroke="#b8b8b8" stroke-width="0.6"/>
<line x1="539.54" y1="647.10" x2="539.54" y2="649.60" stroke="#b8b8b8" stroke-width="0.6"/>
<line x1="547.80" y1="647.10" x2="547.80" y2="652.10" stroke="#3c3c3c" stroke-width="0.75"/>
<text x="547.80" y="661.50" font-size="9.65" text-anchor="middle" >25</text>
<line x1="556.06" y1="647.10" x2="556.06" y2="649.60" stroke="#b8b8b8" stroke-width="0.6"/>
<line x1="564.31" y1="647.10" x2="564.31" y2="649.60" stroke="#b8b8b8" stroke-width="0.6"/>
<line x1="572.57" y1="647.10" x2="572.57" y2="649.60" stroke="#b8b8b8" stroke-width="0.6"/>
<line x1="580.82" y1="647.10" x2="580.82" y2="649.60" stroke="#b8b8b8" stroke-width="0.6"/>
<line x1="589.08" y1="647.10" x2="589.08" y2="652.10" stroke="#3c3c3c" stroke-width="0.75"/>
<text x="589.08" y="661.50" font-size="9.65" text-anchor="middle" >30</text>
<path d="M341.40,468.30 V647.10" fill="none" stroke="#262626" stroke-width="0.92"/>
<path d="M340.94,647.10 H589.48" fill="none" stroke="#262626" stroke-width="1.25"/></g>
<g><path d="M346.56,548.76H352.76M346.56,554.72H352.76M349.66,548.76V554.72" stroke="#111" stroke-width="1.0" fill="none"/>
<path d="M354.81,552.93H361.01M354.81,559.49H361.01M357.91,552.93V559.49" stroke="#111" stroke-width="1.0" fill="none"/>
<path d="M363.07,565.89H369.27M363.07,573.34H369.27M366.17,565.89V573.34" stroke="#111" stroke-width="1.0" fill="none"/>
<path d="M379.58,566.64H385.78M379.58,578.56H385.78M382.68,566.64V578.56" stroke="#111" stroke-width="1.0" fill="none"/>
<path d="M420.86,573.34H427.06M420.86,583.77H427.06M423.96,573.34V583.77" stroke="#111" stroke-width="1.0" fill="none"/>
<path d="M462.14,577.81H468.34M462.14,588.25H468.34M465.24,577.81V588.25" stroke="#111" stroke-width="1.0" fill="none"/>
<path d="M585.98,580.79H592.18M585.98,591.22H592.18M589.08,580.79V591.22" stroke="#111" stroke-width="1.0" fill="none"/>
<path d="M346.56,550.25H352.76M346.56,556.21H352.76M349.66,550.25V556.21" stroke="#111" stroke-width="1.0" fill="none"/>
<path d="M354.81,563.66H361.01M354.81,569.62H361.01M357.91,563.66V569.62" stroke="#111" stroke-width="1.0" fill="none"/>
<path d="M363.07,570.37H369.27M363.07,576.32H369.27M366.17,570.37V576.32" stroke="#111" stroke-width="1.0" fill="none"/>
<path d="M379.58,575.58H385.78M379.58,584.52H385.78M382.68,575.58V584.52" stroke="#111" stroke-width="1.0" fill="none"/>
<path d="M420.86,578.56H427.06M420.86,587.50H427.06M423.96,578.56V587.50" stroke="#111" stroke-width="1.0" fill="none"/>
<path d="M462.14,580.79H468.34M462.14,591.22H468.34M465.24,580.79V591.22" stroke="#111" stroke-width="1.0" fill="none"/>
<path d="M585.98,585.26H592.18M585.98,595.69H592.18M589.08,585.26V595.69" stroke="#111" stroke-width="1.0" fill="none"/>
<polyline points="349.66,551.74 357.91,556.21 366.17,569.62 382.68,572.60 423.96,578.56 465.24,583.03 589.08,586.01" fill="none" stroke="#0c0c0c" stroke-width="1.0"/>
<polyline points="349.66,553.23 357.91,566.64 366.17,573.34 382.68,580.05 423.96,583.03 465.24,586.01 589.08,590.48" fill="none" stroke="#0c0c0c" stroke-width="1.0"/>
<circle cx="349.66" cy="551.74" r="2.9" fill="none" stroke="#777" stroke-width="0.7"/>
<circle cx="357.91" cy="556.21" r="2.9" fill="none" stroke="#777" stroke-width="0.7"/>
<circle cx="366.17" cy="569.62" r="2.9" fill="none" stroke="#777" stroke-width="0.7"/>
<circle cx="382.68" cy="572.60" r="2.9" fill="none" stroke="#777" stroke-width="0.7"/>
<circle cx="423.96" cy="578.56" r="2.9" fill="none" stroke="#777" stroke-width="0.7"/>
<circle cx="465.24" cy="583.03" r="2.9" fill="none" stroke="#777" stroke-width="0.7"/>
<circle cx="589.08" cy="586.01" r="2.9" fill="none" stroke="#777" stroke-width="0.7"/>
<rect x="346.81" y="550.38" width="5.7" height="5.7" fill="none" stroke="#3a3a3a" stroke-width="0.8"/>
<rect x="355.06" y="563.79" width="5.7" height="5.7" fill="none" stroke="#3a3a3a" stroke-width="0.8"/>
<rect x="363.32" y="570.49" width="5.7" height="5.7" fill="none" stroke="#3a3a3a" stroke-width="0.8"/>
<rect x="379.83" y="577.20" width="5.7" height="5.7" fill="none" stroke="#3a3a3a" stroke-width="0.8"/>
<rect x="421.11" y="580.18" width="5.7" height="5.7" fill="none" stroke="#3a3a3a" stroke-width="0.8"/>
<rect x="462.39" y="583.16" width="5.7" height="5.7" fill="none" stroke="#3a3a3a" stroke-width="0.8"/>
<rect x="586.23" y="587.63" width="5.7" height="5.7" fill="none" stroke="#3a3a3a" stroke-width="0.8"/>
<path d="M346.56,606.87H352.76M346.56,618.79H352.76M349.66,606.87V618.79" stroke="#0a0a0a" stroke-width="1.0" fill="none"/>
<path d="M354.81,606.87H361.01M354.81,618.79H361.01M357.91,606.87V618.79" stroke="#0a0a0a" stroke-width="1.0" fill="none"/>
<path d="M363.07,602.40H369.27M363.07,614.32H369.27M366.17,602.40V614.32" stroke="#0a0a0a" stroke-width="1.0" fill="none"/>
<path d="M379.58,603.89H385.78M379.58,618.79H385.78M382.68,603.89V618.79" stroke="#0a0a0a" stroke-width="1.0" fill="none"/>
<path d="M420.86,600.91H427.06M420.86,618.79H427.06M423.96,600.91V618.79" stroke="#0a0a0a" stroke-width="1.0" fill="none"/>
<path d="M462.14,593.46H468.34M462.14,611.34H468.34M465.24,593.46V611.34" stroke="#0a0a0a" stroke-width="1.0" fill="none"/>
<path d="M585.98,596.44H592.18M585.98,614.32H592.18M589.08,596.44V614.32" stroke="#0a0a0a" stroke-width="1.0" fill="none"/>
<path d="M346.56,612.08H352.76M346.56,621.02H352.76M349.66,612.08V621.02" stroke="#0a0a0a" stroke-width="1.0" fill="none"/>
<path d="M354.81,615.81H361.01M354.81,624.75H361.01M357.91,615.81V624.75" stroke="#0a0a0a" stroke-width="1.0" fill="none"/>
<path d="M363.07,613.57H369.27M363.07,624.00H369.27M366.17,613.57V624.00" stroke="#0a0a0a" stroke-width="1.0" fill="none"/>
<path d="M379.58,613.57H385.78M379.58,624.00H385.78M382.68,613.57V624.00" stroke="#0a0a0a" stroke-width="1.0" fill="none"/>
<path d="M420.86,613.57H427.06M420.86,624.00H427.06M423.96,613.57V624.00" stroke="#0a0a0a" stroke-width="1.0" fill="none"/>
<path d="M462.14,613.57H468.34M462.14,624.00H468.34M465.24,613.57V624.00" stroke="#0a0a0a" stroke-width="1.0" fill="none"/>
<path d="M585.98,612.83H592.18M585.98,630.71H592.18M589.08,612.83V630.71" stroke="#0a0a0a" stroke-width="1.0" fill="none"/>
<polyline points="349.66,612.83 357.91,612.83 366.17,608.36 382.68,611.34 423.96,609.85 465.24,602.40 589.08,605.38" fill="none" stroke="#0c0c0c" stroke-width="1.0"/>
<polyline points="349.66,616.55 357.91,620.28 366.17,618.79 382.68,618.79 423.96,618.79 465.24,618.79 589.08,621.77" fill="none" stroke="#0c0c0c" stroke-width="1.0"/>
<circle cx="349.66" cy="612.83" r="3.2" fill="#111"/>
<circle cx="357.91" cy="612.83" r="3.2" fill="#111"/>
<circle cx="366.17" cy="608.36" r="3.2" fill="#111"/>
<circle cx="382.68" cy="611.34" r="3.2" fill="#111"/>
<circle cx="423.96" cy="609.85" r="3.2" fill="#111"/>
<circle cx="465.24" cy="602.40" r="3.2" fill="#111"/>
<circle cx="589.08" cy="605.38" r="3.2" fill="#111"/>
<rect x="346.51" y="613.40" width="6.3" height="6.3" fill="#111"/>
<rect x="354.76" y="617.13" width="6.3" height="6.3" fill="#111"/>
<rect x="363.02" y="615.64" width="6.3" height="6.3" fill="#111"/>
<rect x="379.53" y="615.64" width="6.3" height="6.3" fill="#111"/>
<rect x="420.81" y="615.64" width="6.3" height="6.3" fill="#111"/>
<rect x="462.09" y="615.64" width="6.3" height="6.3" fill="#111"/>
<rect x="585.93" y="618.62" width="6.3" height="6.3" fill="#111"/></g>
<text x="179" y="19.4" font-size="16.6" text-anchor="middle" class="big">Translation</text>
<text x="464.7" y="19.1" font-size="16.6" text-anchor="middle" class="big">Rotation</text>
<text x="178.9" y="688.6" font-size="13.4" text-anchor="middle" class="big">Time Window (sec)</text>
<text x="474.6" y="688.6" font-size="13.4" text-anchor="middle" class="big">Time Window (sec)</text>
<text transform="translate(17.3,137.4) rotate(-90)" font-size="13.5" text-anchor="middle" class="big">Correlation</text>
<text transform="translate(17.3,342.8) rotate(-90)" font-size="13.5" text-anchor="middle" class="big">Correlation</text>
<text transform="translate(17.3,556.5) rotate(-90)" font-size="13.5" text-anchor="middle" class="big">Correlation</text>
<text x="108.6" y="77.3" font-size="12" fill="#111">abs(<tspan font-style="italic">r</tspan>)</text>
<text x="184.6" y="77.3" font-size="12" font-style="italic" fill="#111">r</text>
<line x1="108.2" y1="88.8" x2="127" y2="88.8" stroke="#333" stroke-width="0.8"/><circle cx="117.3" cy="88.8" r="2.9" fill="none" stroke="#777" stroke-width="0.7"/>
<line x1="108.2" y1="104.3" x2="127" y2="104.3" stroke="#333" stroke-width="0.8"/><rect x="114.45" y="101.45" width="5.7" height="5.7" fill="none" stroke="#3a3a3a" stroke-width="0.8"/>
<text x="143.8" y="92" font-size="8.8" text-anchor="end" fill="#111">ID</text>
<text x="143.8" y="107.6" font-size="8.8" text-anchor="end" fill="#111">AD</text>
<line x1="166" y1="88.8" x2="185.4" y2="88.8" stroke="#222" stroke-width="0.9"/><circle cx="175.7" cy="88.8" r="3.4" fill="#111"/>
<line x1="166" y1="104.3" x2="185.4" y2="104.3" stroke="#222" stroke-width="0.9"/><rect x="172.4" y="101" width="6.6" height="6.6" fill="#111"/>
<text x="195.9" y="92" font-size="8.8" text-anchor="middle" fill="#111">ID</text>
<text x="195.6" y="107.6" font-size="8.8" text-anchor="middle" fill="#111">AD</text>
<ellipse cx="269.2" cy="105.9" rx="15.2" ry="20.5" fill="url(#hg)" filter="url(#bl)"/><ellipse cx="261.00" cy="104.40" rx="1.45" ry="1.6" fill="#000"/><ellipse cx="269.90" cy="104.40" rx="1.45" ry="1.6" fill="#000"/>
<line x1="252.3" y1="105.3" x2="239.6" y2="105.3" stroke="#000" stroke-width="1.0" marker-end="url(#ah)"/>
<line x1="281.4" y1="105.3" x2="294.4" y2="105.3" stroke="#000" stroke-width="1.0" marker-end="url(#ah)"/>
<ellipse cx="558.9" cy="105.8" rx="15.2" ry="20.5" fill="url(#hg)" filter="url(#bl)"/><ellipse cx="553.20" cy="104.30" rx="1.45" ry="1.6" fill="#000"/><ellipse cx="562.10" cy="104.30" rx="1.45" ry="1.6" fill="#000"/>
<path d="M552.1,78.5 C547.5,92 547,118 551,131 C553,138 556.5,140.5 559.5,137 C561.5,134.5 563,131.5 564,129" fill="none" stroke="#111" stroke-width="1.5" marker-end="url(#ahb)"/>
<path d="M558.5,71.8 C562,72 564.5,76 565.3,82.5" fill="none" stroke="#111" stroke-width="1.5" marker-end="url(#ahb)"/>
<text x="554.3" y="75.5" font-size="6.2" text-anchor="middle" fill="#111" stroke="#111" stroke-width="0.25">X</text>
<ellipse cx="268.3" cy="309.09999999999997" rx="15.2" ry="20.5" fill="url(#hg)" filter="url(#bl)"/><ellipse cx="260.10" cy="307.00" rx="1.45" ry="1.6" fill="#000"/><ellipse cx="269.00" cy="307.00" rx="1.45" ry="1.6" fill="#000"/>
<line x1="268.1" y1="286.9" x2="268.1" y2="274.4" stroke="#000" stroke-width="1.0" marker-end="url(#ah)"/>
<line x1="268.1" y1="333.1" x2="268.1" y2="345.2" stroke="#000" stroke-width="1.0" marker-end="url(#ah)"/>
<ellipse cx="559.5" cy="311.5" rx="15.2" ry="20.5" fill="url(#hg)" filter="url(#bl)"/><ellipse cx="554.00" cy="309.80" rx="1.45" ry="1.6" fill="#000"/><ellipse cx="562.90" cy="309.80" rx="1.45" ry="1.6" fill="#000"/>
<path d="M578.7,319.7 C560,321.5 540,321.5 528,318.5 C519,316 520.5,311 528,309 C531.5,308 535,307.4 538.6,307.1" fill="none" stroke="#111" stroke-width="1.5" marker-end="url(#ahb)"/>
<path d="M587.2,317.8 C593,316.5 596,314 593.5,311.5 C591,309.8 586,309.2 580.2,309" fill="none" stroke="#111" stroke-width="1.5" marker-end="url(#ahb)"/>
<text x="583.4" y="321.1" font-size="6.6" text-anchor="middle" fill="#111" stroke="#111" stroke-width="0.25">Y</text>
<ellipse cx="267.8" cy="511.4" rx="15.2" ry="20.5" fill="url(#hg)" filter="url(#bl)"/><ellipse cx="259.30" cy="509.60" rx="1.45" ry="1.6" fill="#000"/><ellipse cx="268.30" cy="509.60" rx="1.45" ry="1.6" fill="#000"/>
<line x1="281.7" y1="504.1" x2="290" y2="498.7" stroke="#000" stroke-width="1.0" marker-end="url(#ah)"/>
<line x1="260.1" y1="518.3" x2="249.4" y2="526.5" stroke="#111" stroke-width="1.3" marker-end="url(#ahm)"/>
<ellipse cx="557" cy="516.3000000000001" rx="15.2" ry="20.5" fill="url(#hg)" filter="url(#bl)"/><ellipse cx="551.40" cy="514.50" rx="1.45" ry="1.6" fill="#000"/><ellipse cx="560.20" cy="514.50" rx="1.45" ry="1.6" fill="#000"/>
<path d="M579.5,495.5 C576,489 568,484.5 554.5,484.3" fill="none" stroke="#111" stroke-width="1.5" marker-end="url(#ahb)"/>
<line x1="582.9" y1="506.9" x2="582.9" y2="518.6" stroke="#111" stroke-width="1.5" marker-end="url(#ahb)"/>
<text x="582.1" y="503.6" font-size="6.3" text-anchor="middle" fill="#111" stroke="#111" stroke-width="0.25">Z</text>
</g>
</svg>
</body></html>
